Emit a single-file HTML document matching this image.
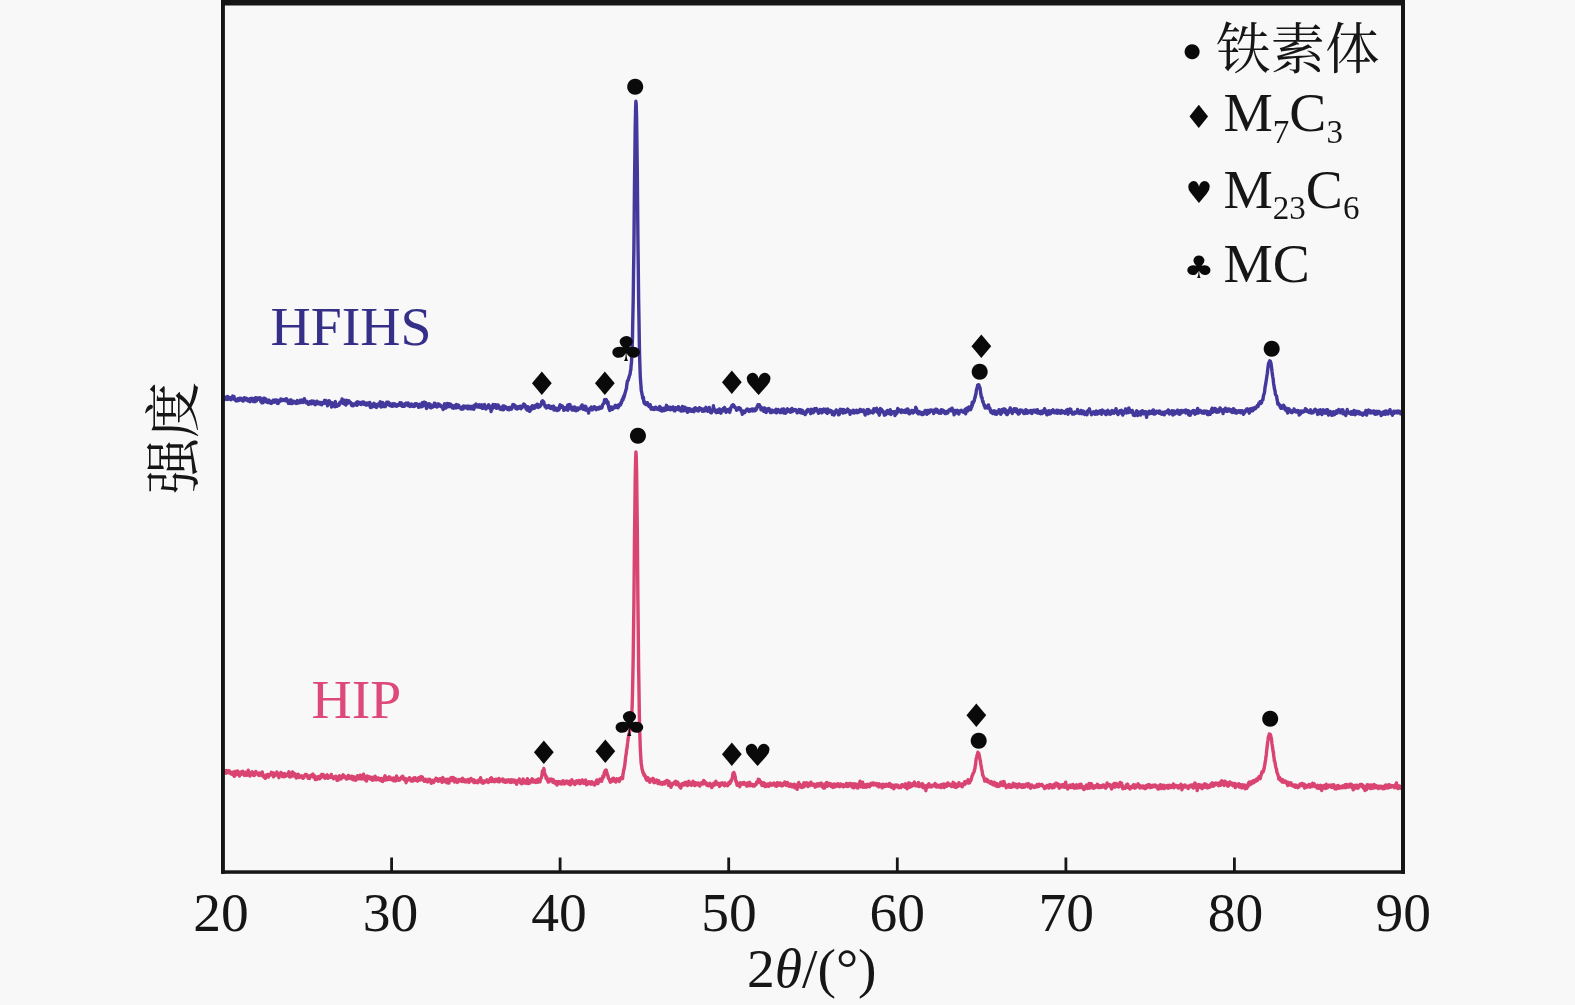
<!DOCTYPE html>
<html lang="zh">
<head>
<meta charset="utf-8">
<title>XRD</title>
<style>
html,body{margin:0;padding:0;background:#f8f8f8;}
body{width:1575px;height:1005px;overflow:hidden;}
svg{display:block;filter:blur(0.55px);}
.lat{font-family:"Liberation Serif","Noto Serif CJK SC",serif;}
.cjk{font-family:"Liberation Serif","Noto Serif CJK SC",serif;}
.sym{font-family:"DejaVu Sans",sans-serif;}
</style>
</head>
<body>
<svg width="1575" height="1005" viewBox="0 0 1575 1005">
<rect x="0" y="0" width="1575" height="1005" fill="#f8f8f8"/>
<!-- curves -->
<polyline points="224.5,398.5 224.8,399.5 225.2,399.0 225.5,397.1 225.9,397.3 226.2,397.4 226.5,399.0 226.9,398.6 227.2,399.4 227.6,396.4 227.9,399.4 228.2,397.5 228.6,398.2 228.9,397.5 229.3,397.4 229.6,398.5 229.9,399.2 230.3,398.5 230.6,398.7 231,399.7 231.3,398.2 231.6,397.5 232,399.2 232.3,397.8 232.7,396.1 233,396.8 233.3,397.1 233.7,396.5 234,396.5 234.4,398.4 234.7,399.7 235,399.1 235.4,399.1 235.7,400.6 236.1,400.9 236.4,399.7 236.7,400.3 237.1,400.7 237.4,399.4 237.8,398.8 238.1,399.8 238.4,399.6 238.8,400.5 239.1,398.4 239.5,399.3 239.8,399.3 240.1,398.3 240.5,399.9 240.8,399.9 241.2,398.3 241.5,400.2 241.8,399.8 242.2,400.0 242.5,400.2 242.9,401.1 243.2,398.9 243.5,400.8 243.9,400.5 244.2,397.7 244.6,399.4 244.9,398.6 245.2,399.5 245.6,398.3 245.9,398.9 246.3,399.4 246.6,398.3 246.9,400.1 247.3,399.7 247.6,400.6 248,399.6 248.3,401.0 248.6,400.3 249,399.3 249.3,400.2 249.7,401.0 250,401.7 250.3,398.4 250.7,400.8 251,400.2 251.4,399.5 251.7,398.5 252,400.8 252.4,398.5 252.7,400.5 253.1,401.4 253.4,398.6 253.7,399.8 254.1,398.7 254.4,400.0 254.8,401.1 255.1,401.6 255.4,397.8 255.8,399.1 256.1,400.3 256.5,400.9 256.8,399.4 257.1,398.0 257.5,399.0 257.8,398.7 258.2,398.6 258.5,398.1 258.8,399.2 259.2,399.0 259.5,398.5 259.9,398.4 260.2,397.7 260.5,399.3 260.9,401.8 261.2,401.1 261.6,400.1 261.9,402.7 262.2,401.6 262.6,402.8 262.9,400.4 263.3,399.6 263.6,398.3 263.9,400.8 264.3,401.8 264.6,398.3 265,398.5 265.3,399.9 265.6,398.8 266,399.7 266.3,400.1 266.7,401.0 267,402.2 267.3,401.4 267.7,402.5 268,401.4 268.4,402.4 268.7,400.0 269,400.4 269.4,402.4 269.7,400.8 270.1,401.9 270.4,402.1 270.7,403.2 271.1,403.0 271.4,403.4 271.8,402.2 272.1,401.4 272.4,401.0 272.8,401.0 273.1,400.3 273.5,401.0 273.8,401.7 274.1,402.3 274.5,401.7 274.8,399.9 275.2,401.3 275.5,401.1 275.8,401.7 276.2,401.1 276.5,400.0 276.9,400.2 277.2,403.2 277.5,402.1 277.9,403.2 278.2,403.4 278.6,400.4 278.9,401.5 279.2,401.5 279.6,401.5 279.9,401.3 280.3,400.8 280.6,400.7 280.9,398.9 281.3,400.2 281.6,399.7 282,400.5 282.3,399.7 282.6,400.4 283,400.2 283.3,399.5 283.7,399.7 284,399.8 284.3,399.6 284.7,400.2 285,399.9 285.4,400.7 285.7,400.2 286,400.7 286.4,398.7 286.7,400.9 287.1,399.5 287.4,400.0 287.7,401.4 288.1,401.9 288.4,403.4 288.8,402.8 289.1,402.1 289.4,401.8 289.8,403.4 290.1,401.6 290.5,400.1 290.8,401.2 291.1,399.9 291.5,403.6 291.8,400.7 292.2,403.1 292.5,403.4 292.8,401.3 293.2,402.6 293.5,402.8 293.9,401.8 294.2,401.4 294.5,402.2 294.9,401.7 295.2,402.2 295.6,402.2 295.9,403.3 296.2,401.8 296.6,403.4 296.9,401.6 297.3,400.6 297.6,401.7 297.9,403.1 298.3,402.5 298.6,401.4 299,402.8 299.3,401.8 299.6,402.1 300,402.4 300.3,400.1 300.7,402.6 301,401.4 301.3,401.5 301.7,400.4 302,400.0 302.4,400.2 302.7,401.7 303,402.4 303.4,400.6 303.7,401.7 304.1,400.3 304.4,398.7 304.7,401.0 305.1,401.6 305.4,401.1 305.8,402.2 306.1,402.8 306.4,401.6 306.8,401.2 307.1,402.7 307.5,402.9 307.8,402.8 308.1,404.0 308.5,404.5 308.8,402.1 309.2,403.0 309.5,403.1 309.8,402.8 310.2,403.0 310.5,401.5 310.9,402.6 311.2,403.8 311.5,402.5 311.9,401.0 312.2,402.3 312.6,403.1 312.9,402.4 313.2,401.5 313.6,403.7 313.9,401.2 314.3,403.4 314.6,403.2 314.9,402.3 315.3,404.7 315.6,403.7 316,402.1 316.3,403.8 316.6,402.7 317,401.2 317.3,402.3 317.7,403.3 318,403.6 318.3,403.0 318.7,402.7 319,403.0 319.4,402.4 319.7,404.0 320,403.3 320.4,403.7 320.7,404.0 321.1,402.4 321.4,402.7 321.7,404.9 322.1,403.7 322.4,403.0 322.8,403.5 323.1,402.6 323.4,403.2 323.8,402.1 324.1,402.7 324.5,400.5 324.8,403.2 325.1,401.3 325.5,400.4 325.8,401.9 326.2,401.9 326.5,402.4 326.8,401.1 327.2,402.6 327.5,405.9 327.9,401.2 328.2,403.0 328.5,402.4 328.9,402.9 329.2,400.7 329.6,401.2 329.9,402.7 330.2,402.3 330.6,404.3 330.9,402.5 331.3,404.0 331.6,407.0 331.9,403.3 332.3,402.9 332.6,403.6 333,403.5 333.3,404.5 333.6,403.9 334,403.2 334.3,404.3 334.7,406.8 335,405.5 335.3,401.4 335.7,404.1 336,403.5 336.4,405.1 336.7,404.4 337,406.4 337.4,405.3 337.7,405.2 338.1,404.6 338.4,404.5 338.7,404.7 339.1,405.3 339.4,404.0 339.8,402.5 340.1,403.6 340.4,402.3 340.8,402.0 341.1,401.2 341.5,401.4 341.8,401.2 342.1,399.0 342.5,402.9 342.8,402.7 343.2,402.2 343.5,403.7 343.8,403.3 344.2,403.2 344.5,400.3 344.9,402.5 345.2,403.3 345.5,404.6 345.9,405.0 346.2,404.5 346.6,401.7 346.9,400.3 347.2,402.7 347.6,402.1 347.9,403.2 348.3,402.2 348.6,402.6 348.9,400.8 349.3,402.7 349.6,401.7 350,402.4 350.3,402.7 350.6,402.6 351,403.8 351.3,404.2 351.7,405.6 352,405.5 352.3,404.2 352.7,403.8 353,405.9 353.4,404.0 353.7,405.3 354,404.9 354.4,404.1 354.7,404.0 355.1,404.8 355.4,404.7 355.7,404.9 356.1,402.7 356.4,403.2 356.8,403.6 357.1,405.4 357.4,401.7 357.8,404.5 358.1,403.4 358.5,403.9 358.8,402.4 359.1,402.7 359.5,403.6 359.8,402.5 360.2,403.1 360.5,403.7 360.8,403.1 361.2,404.6 361.5,403.6 361.9,402.4 362.2,402.5 362.5,401.9 362.9,402.8 363.2,402.2 363.6,402.0 363.9,404.2 364.2,403.9 364.6,404.4 364.9,403.8 365.3,403.2 365.6,403.1 365.9,403.6 366.3,405.2 366.6,404.6 367,403.2 367.3,404.7 367.6,403.3 368,404.7 368.3,403.2 368.7,402.8 369,404.0 369.3,403.7 369.7,402.4 370,405.3 370.4,407.3 370.7,404.1 371,407.6 371.4,405.1 371.7,405.3 372.1,405.6 372.4,404.3 372.7,406.8 373.1,405.6 373.4,404.1 373.8,404.5 374.1,403.3 374.4,404.7 374.8,406.4 375.1,404.1 375.5,405.7 375.8,406.4 376.1,407.3 376.5,407.4 376.8,405.3 377.2,404.6 377.5,405.3 377.8,404.1 378.2,404.0 378.5,405.3 378.9,405.8 379.2,404.2 379.5,403.6 379.9,404.2 380.2,401.7 380.6,403.8 380.9,403.1 381.2,407.0 381.6,405.7 381.9,405.3 382.3,404.9 382.6,402.4 382.9,405.6 383.3,406.6 383.6,404.5 384,406.2 384.3,406.4 384.6,404.0 385,406.3 385.3,406.5 385.7,405.0 386,404.4 386.3,404.9 386.7,402.3 387,403.7 387.4,404.6 387.7,402.2 388,404.6 388.4,403.5 388.7,402.5 389.1,405.0 389.4,404.4 389.7,405.5 390.1,403.7 390.4,405.7 390.8,403.9 391.1,405.2 391.4,404.4 391.8,404.8 392.1,406.4 392.5,405.4 392.8,404.8 393.1,403.8 393.5,406.1 393.8,405.5 394.2,404.4 394.5,405.0 394.8,403.8 395.2,404.1 395.5,404.6 395.9,406.1 396.2,406.2 396.5,405.0 396.9,406.1 397.2,405.8 397.6,404.9 397.9,405.7 398.2,404.4 398.6,404.6 398.9,405.1 399.3,404.4 399.6,405.0 399.9,402.7 400.3,405.2 400.6,403.0 401,403.7 401.3,402.8 401.6,405.1 402,406.1 402.3,406.3 402.7,406.3 403,404.1 403.3,404.9 403.7,405.1 404,404.5 404.4,406.4 404.7,405.3 405,404.8 405.4,405.0 405.7,403.3 406.1,403.1 406.4,403.2 406.7,404.8 407.1,404.8 407.4,405.1 407.8,405.5 408.1,403.0 408.4,403.9 408.8,404.9 409.1,403.8 409.5,404.9 409.8,406.5 410.1,406.4 410.5,406.1 410.8,404.9 411.2,404.4 411.5,405.5 411.8,404.1 412.2,404.9 412.5,406.2 412.9,404.9 413.2,404.9 413.5,405.7 413.9,406.4 414.2,406.2 414.6,405.8 414.9,406.0 415.2,403.7 415.6,404.3 415.9,405.3 416.3,404.2 416.6,403.8 416.9,403.9 417.3,404.3 417.6,405.2 418,404.5 418.3,405.9 418.6,407.3 419,405.3 419.3,406.5 419.7,405.5 420,404.2 420.3,405.3 420.7,404.8 421,406.7 421.4,404.7 421.7,406.8 422,405.7 422.4,402.7 422.7,405.2 423.1,405.9 423.4,403.5 423.7,405.1 424.1,402.1 424.4,404.1 424.8,402.3 425.1,404.8 425.4,403.0 425.8,402.7 426.1,406.2 426.5,408.5 426.8,405.8 427.1,407.2 427.5,406.1 427.8,405.3 428.2,405.8 428.5,406.7 428.8,403.8 429.2,405.8 429.5,405.7 429.9,404.1 430.2,407.2 430.5,407.7 430.9,404.9 431.2,407.7 431.6,406.1 431.9,405.7 432.2,407.3 432.6,405.9 432.9,405.8 433.3,406.8 433.6,406.4 433.9,405.7 434.3,403.3 434.6,403.3 435,406.3 435.3,404.7 435.6,406.1 436,405.0 436.3,405.9 436.7,404.6 437,407.1 437.3,403.9 437.7,404.5 438,404.5 438.4,406.2 438.7,403.9 439,405.4 439.4,405.2 439.7,405.9 440.1,405.9 440.4,405.1 440.7,406.0 441.1,405.7 441.4,406.8 441.8,406.6 442.1,406.3 442.4,407.2 442.8,407.7 443.1,409.5 443.5,406.5 443.8,406.9 444.1,407.6 444.5,403.7 444.8,403.7 445.2,404.1 445.5,405.3 445.8,408.1 446.2,406.3 446.5,407.3 446.9,405.8 447.2,403.4 447.5,403.5 447.9,406.8 448.2,405.9 448.6,404.3 448.9,406.6 449.2,403.7 449.6,406.2 449.9,406.5 450.3,404.4 450.6,404.3 450.9,406.5 451.3,404.8 451.6,407.0 452,405.3 452.3,407.7 452.6,407.4 453,407.2 453.3,406.9 453.7,408.2 454,406.0 454.3,407.5 454.7,407.0 455,407.6 455.4,405.2 455.7,407.7 456,405.5 456.4,404.6 456.7,407.2 457.1,407.7 457.4,406.0 457.7,405.2 458.1,406.0 458.4,405.1 458.8,405.5 459.1,407.5 459.4,406.8 459.8,407.1 460.1,407.8 460.5,407.8 460.8,408.9 461.1,408.8 461.5,407.3 461.8,407.3 462.2,409.2 462.5,407.0 462.8,406.4 463.2,408.9 463.5,407.1 463.9,406.1 464.2,407.8 464.5,406.2 464.9,406.6 465.2,407.4 465.6,407.0 465.9,406.3 466.2,406.6 466.6,406.5 466.9,408.2 467.3,406.2 467.6,406.2 467.9,408.8 468.3,406.3 468.6,408.5 469,408.5 469.3,407.3 469.6,406.3 470,408.4 470.3,408.6 470.7,408.8 471,407.8 471.3,408.7 471.7,408.7 472,406.2 472.4,408.7 472.7,407.6 473,406.9 473.4,407.1 473.7,409.3 474.1,408.3 474.4,405.3 474.7,406.9 475.1,406.1 475.4,405.6 475.8,404.9 476.1,404.0 476.4,406.8 476.8,405.5 477.1,406.5 477.5,406.4 477.8,406.0 478.1,407.0 478.5,406.2 478.8,404.9 479.2,404.7 479.5,405.4 479.8,407.3 480.2,406.9 480.5,407.2 480.9,406.6 481.2,406.6 481.5,406.9 481.9,404.8 482.2,408.3 482.6,406.0 482.9,406.3 483.2,408.3 483.6,407.1 483.9,406.7 484.3,405.7 484.6,404.6 484.9,406.5 485.3,408.0 485.6,406.4 486,409.0 486.3,406.7 486.6,407.0 487,408.0 487.3,407.2 487.7,407.7 488,406.1 488.3,405.6 488.7,404.7 489,405.5 489.4,406.0 489.7,406.2 490,408.5 490.4,408.0 490.7,407.0 491.1,411.5 491.4,408.0 491.7,407.2 492.1,409.2 492.4,408.4 492.8,405.4 493.1,404.5 493.4,404.7 493.8,406.9 494.1,405.7 494.5,405.3 494.8,406.1 495.1,407.3 495.5,404.7 495.8,405.8 496.2,404.9 496.5,408.4 496.8,408.0 497.2,407.1 497.5,406.2 497.9,407.3 498.2,405.0 498.5,407.7 498.9,406.4 499.2,406.6 499.6,407.5 499.9,408.2 500.2,409.3 500.6,409.4 500.9,408.8 501.3,407.4 501.6,408.8 501.9,408.1 502.3,409.7 502.6,407.8 503,406.0 503.3,407.8 503.6,409.7 504,407.3 504.3,406.1 504.7,407.1 505,407.0 505.3,407.4 505.7,406.8 506,407.8 506.4,408.4 506.7,407.9 507,407.6 507.4,408.8 507.7,409.4 508.1,408.7 508.4,408.2 508.7,407.9 509.1,409.8 509.4,407.4 509.8,408.2 510.1,409.2 510.4,407.5 510.8,407.9 511.1,408.7 511.5,409.1 511.8,407.4 512.1,407.0 512.5,406.3 512.8,404.7 513.2,407.0 513.5,405.8 513.8,404.6 514.2,406.4 514.5,405.1 514.9,406.0 515.2,407.2 515.5,406.5 515.9,408.6 516.2,406.3 516.6,408.1 516.9,408.3 517.2,409.0 517.6,408.2 517.9,407.3 518.3,407.0 518.6,406.9 518.9,408.2 519.3,406.5 519.6,407.7 520,406.9 520.3,407.0 520.6,406.3 521,408.7 521.3,406.1 521.7,407.1 522,407.1 522.3,407.4 522.7,406.9 523,406.6 523.4,406.7 523.7,403.9 524,405.3 524.4,404.3 524.7,406.1 525.1,405.2 525.4,405.8 525.7,407.1 526.1,409.0 526.4,408.6 526.8,408.8 527.1,410.1 527.4,407.9 527.8,406.7 528.1,408.2 528.5,408.3 528.8,409.9 529.1,410.9 529.5,407.6 529.8,411.3 530.2,410.2 530.5,409.0 530.8,408.0 531.2,409.5 531.5,406.9 531.9,406.2 532.2,406.9 532.5,405.7 532.9,408.1 533.2,407.9 533.6,408.4 533.9,408.2 534.2,406.3 534.6,408.2 534.9,405.6 535.3,407.6 535.6,405.2 535.9,407.1 536.3,405.7 536.6,406.4 537,405.7 537.3,404.1 537.6,405.3 538,406.7 538.3,407.4 538.7,405.6 539,405.0 539.3,406.2 539.7,406.7 540,405.8 540.4,404.9 540.7,405.6 541,404.8 541.4,403.9 541.7,401.8 542.1,402.4 542.4,402.0 542.7,400.8 543.1,402.9 543.4,402.2 543.8,401.9 544.1,404.1 544.4,404.3 544.8,405.3 545.1,406.7 545.5,407.1 545.8,405.8 546.1,406.8 546.5,408.0 546.8,406.0 547.2,406.5 547.5,406.6 547.8,407.5 548.2,407.3 548.5,406.8 548.9,405.6 549.2,406.6 549.5,406.5 549.9,406.3 550.2,408.3 550.6,407.8 550.9,406.6 551.2,408.5 551.6,407.0 551.9,408.1 552.3,406.4 552.6,408.3 552.9,407.6 553.3,407.5 553.6,406.2 554,410.1 554.3,407.8 554.6,408.5 555,409.7 555.3,408.9 555.7,409.8 556,408.1 556.3,409.8 556.7,409.3 557,410.5 557.4,410.3 557.7,408.8 558,408.2 558.4,408.7 558.7,410.1 559.1,409.3 559.4,408.7 559.7,405.9 560.1,404.8 560.4,406.5 560.8,406.5 561.1,406.2 561.4,407.2 561.8,406.7 562.1,405.8 562.5,406.1 562.8,407.3 563.1,407.5 563.5,407.7 563.8,410.4 564.2,408.1 564.5,408.7 564.8,407.7 565.2,408.5 565.5,409.4 565.9,409.5 566.2,408.9 566.5,409.5 566.9,409.2 567.2,407.1 567.6,405.3 567.9,410.2 568.2,408.1 568.6,406.6 568.9,404.7 569.3,405.3 569.6,408.3 569.9,404.4 570.3,406.9 570.6,408.0 571,407.1 571.3,407.6 571.6,407.0 572,410.0 572.3,407.1 572.7,407.1 573,409.0 573.3,410.1 573.7,408.5 574,409.3 574.4,407.5 574.7,406.9 575,409.8 575.4,410.5 575.7,410.7 576.1,408.9 576.4,408.2 576.7,408.2 577.1,409.3 577.4,410.2 577.8,410.1 578.1,407.9 578.4,409.4 578.8,409.0 579.1,408.9 579.5,408.6 579.8,408.2 580.1,408.6 580.5,407.7 580.8,407.4 581.2,406.1 581.5,407.1 581.8,406.7 582.2,405.0 582.5,408.1 582.9,407.8 583.2,409.3 583.5,408.4 583.9,408.3 584.2,408.4 584.6,407.9 584.9,407.4 585.2,406.2 585.6,410.0 585.9,406.8 586.3,408.2 586.6,409.4 586.9,409.4 587.3,409.9 587.6,410.4 588,411.2 588.3,410.4 588.6,413.0 589,408.9 589.3,409.9 589.7,409.0 590,408.5 590.3,409.0 590.7,409.7 591,407.2 591.4,407.0 591.7,408.4 592,408.2 592.4,409.8 592.7,409.1 593.1,408.6 593.4,408.2 593.7,408.6 594.1,408.0 594.4,406.7 594.8,408.1 595.1,408.0 595.4,407.9 595.8,407.7 596.1,409.7 596.5,408.7 596.8,409.1 597.1,407.8 597.5,407.7 597.8,408.6 598.2,409.0 598.5,408.2 598.8,408.0 599.2,408.8 599.5,408.1 599.9,406.9 600.2,407.6 600.5,407.5 600.9,408.3 601.2,406.8 601.6,407.4 601.9,407.9 602.2,406.6 602.6,405.0 602.9,404.3 603.3,404.1 603.6,403.5 603.9,403.1 604.3,401.4 604.6,399.6 605,401.2 605.3,399.8 605.6,399.9 606,400.1 606.3,399.6 606.7,400.9 607,402.2 607.3,403.7 607.7,403.8 608,401.9 608.4,405.7 608.7,407.2 609,408.8 609.4,408.7 609.7,410.5 610.1,409.4 610.4,409.2 610.7,408.9 611.1,407.0 611.4,409.6 611.8,409.6 612.1,408.5 612.4,409.3 612.8,408.6 613.1,407.2 613.5,407.3 613.8,407.1 614.1,407.5 614.5,406.8 614.8,407.8 615.2,405.4 615.5,407.0 615.8,405.5 616.2,406.5 616.5,407.3 616.9,406.6 617.2,406.3 617.5,406.4 617.9,407.8 618.2,405.1 618.6,407.0 618.9,404.7 619.2,405.4 619.6,405.6 619.9,404.2 620.3,404.7 620.6,404.8 620.9,402.6 621.3,403.2 621.6,402.2 622,400.0 622.3,400.7 622.6,399.1 623,399.8 623.3,396.9 623.7,398.1 624,395.4 624.3,396.5 624.7,394.4 625,393.1 625.4,392.1 625.7,390.8 626,389.8 626.4,388.6 626.7,385.6 627.1,383.4 627.4,380.9 627.7,381.0 628.1,380.5 628.4,379.2 628.8,378.1 629.1,377.0 629.4,375.8 629.8,374.9 630.1,373.9 630.5,370.8 630.8,370.1 631.1,365.8 631.5,362.3 631.8,355.9 632.2,347.4 632.5,335.4 632.8,319.8 633.2,300.4 633.5,275.8 633.9,248.5 634.2,216.5 634.5,184.2 634.9,153.6 635.2,127.6 635.6,109.1 635.9,101.3 636.2,104.4 636.6,118.2 636.9,141.7 637.3,171.1 637.6,204.3 637.9,237.8 638.3,269.5 638.6,297.7 639,321.2 639.3,341.5 639.6,356.2 640,368.3 640.3,377.0 640.7,382.4 641,386.1 641.3,390.8 641.7,392.0 642,394.2 642.4,395.5 642.7,398.2 643,398.3 643.4,397.4 643.7,401.0 644.1,403.0 644.4,403.5 644.7,401.9 645.1,402.9 645.4,403.7 645.8,404.5 646.1,404.0 646.4,403.1 646.8,404.7 647.1,404.5 647.5,402.7 647.8,403.8 648.1,404.9 648.5,405.2 648.8,406.1 649.2,406.6 649.5,406.4 649.8,405.7 650.2,404.7 650.5,407.0 650.9,408.2 651.2,409.1 651.5,407.3 651.9,407.4 652.2,408.9 652.6,409.2 652.9,408.6 653.2,409.3 653.6,408.1 653.9,409.5 654.3,408.1 654.6,408.8 654.9,408.9 655.3,408.7 655.6,407.1 656,408.2 656.3,409.1 656.6,408.4 657,408.0 657.3,408.8 657.7,409.2 658,409.5 658.3,407.9 658.7,408.5 659,407.9 659.4,407.1 659.7,406.5 660,408.0 660.4,407.4 660.7,410.5 661.1,408.5 661.4,408.6 661.7,408.7 662.1,411.1 662.4,408.5 662.8,409.3 663.1,408.7 663.4,409.3 663.8,409.3 664.1,410.5 664.5,407.9 664.8,409.0 665.1,410.3 665.5,407.8 665.8,407.9 666.2,407.0 666.5,405.3 666.8,408.0 667.2,409.6 667.5,408.2 667.9,406.9 668.2,408.9 668.5,408.4 668.9,409.2 669.2,409.2 669.6,408.3 669.9,409.3 670.2,407.2 670.6,409.9 670.9,408.8 671.3,409.5 671.6,409.4 671.9,408.1 672.3,408.4 672.6,407.9 673,406.9 673.3,409.1 673.6,409.7 674,408.8 674.3,410.9 674.7,410.4 675,410.7 675.3,409.1 675.7,407.7 676,409.8 676.4,409.4 676.7,408.5 677,408.2 677.4,408.3 677.7,408.4 678.1,408.0 678.4,406.7 678.7,409.7 679.1,407.8 679.4,409.3 679.8,409.5 680.1,410.1 680.4,408.2 680.8,411.0 681.1,410.5 681.5,410.6 681.8,411.0 682.1,408.8 682.5,406.4 682.8,409.8 683.2,410.8 683.5,410.6 683.8,408.8 684.2,409.1 684.5,409.3 684.9,407.1 685.2,408.1 685.5,408.2 685.9,410.6 686.2,408.7 686.6,411.2 686.9,410.0 687.2,408.5 687.6,412.4 687.9,409.0 688.3,410.3 688.6,411.2 688.9,408.9 689.3,408.5 689.6,411.1 690,410.3 690.3,409.1 690.6,409.3 691,410.0 691.3,411.3 691.7,409.8 692,410.5 692.3,411.3 692.7,411.0 693,411.3 693.4,411.4 693.7,408.8 694,411.7 694.4,410.5 694.7,409.7 695.1,408.4 695.4,407.7 695.7,408.2 696.1,409.4 696.4,408.4 696.8,408.8 697.1,409.2 697.4,410.7 697.8,409.8 698.1,409.8 698.5,410.9 698.8,408.8 699.1,409.5 699.5,407.7 699.8,409.0 700.2,408.9 700.5,409.1 700.8,408.8 701.2,408.7 701.5,409.7 701.9,409.7 702.2,411.2 702.5,411.1 702.9,409.1 703.2,411.1 703.6,410.2 703.9,411.2 704.2,410.1 704.6,408.7 704.9,410.7 705.3,409.9 705.6,408.0 705.9,407.3 706.3,408.8 706.6,408.5 707,409.5 707.3,410.6 707.6,411.2 708,409.1 708.3,410.5 708.7,410.1 709,408.5 709.3,407.4 709.7,410.2 710,410.2 710.4,412.4 710.7,411.9 711,411.7 711.4,412.8 711.7,410.0 712.1,410.9 712.4,409.8 712.7,411.1 713.1,409.5 713.4,405.7 713.8,410.3 714.1,408.5 714.4,410.8 714.8,410.1 715.1,411.3 715.5,411.9 715.8,411.6 716.1,410.4 716.5,412.7 716.8,411.5 717.2,410.9 717.5,411.5 717.8,410.1 718.2,412.4 718.5,410.4 718.9,410.3 719.2,410.1 719.5,409.0 719.9,409.2 720.2,411.2 720.6,411.9 720.9,413.2 721.2,412.1 721.6,410.1 721.9,411.2 722.3,411.2 722.6,411.2 722.9,410.4 723.3,408.6 723.6,410.6 724,408.4 724.3,409.6 724.6,407.5 725,410.1 725.3,408.9 725.7,411.1 726,412.3 726.3,412.2 726.7,410.2 727,410.3 727.4,409.9 727.7,410.7 728,409.8 728.4,409.4 728.7,409.7 729.1,410.5 729.4,411.0 729.7,412.4 730.1,410.5 730.4,410.3 730.8,407.6 731.1,407.3 731.4,407.1 731.8,405.8 732.1,406.5 732.5,406.6 732.8,404.8 733.1,404.7 733.5,404.9 733.8,406.0 734.2,405.9 734.5,407.1 734.8,407.3 735.2,407.5 735.5,408.2 735.9,407.8 736.2,408.3 736.5,410.3 736.9,408.8 737.2,409.8 737.6,409.1 737.9,408.4 738.2,408.2 738.6,407.7 738.9,408.4 739.3,407.7 739.6,407.8 739.9,409.4 740.3,408.4 740.6,410.2 741,410.1 741.3,411.4 741.6,410.5 742,411.6 742.3,414.2 742.7,412.5 743,412.8 743.3,412.2 743.7,412.9 744,410.9 744.4,411.1 744.7,412.1 745,412.3 745.4,410.9 745.7,411.0 746.1,410.6 746.4,410.6 746.7,409.4 747.1,409.0 747.4,410.6 747.8,409.2 748.1,410.3 748.4,410.7 748.8,410.2 749.1,411.4 749.5,410.6 749.8,410.9 750.1,409.8 750.5,409.9 750.8,410.9 751.2,410.4 751.5,409.2 751.8,409.7 752.2,409.3 752.5,409.2 752.9,410.9 753.2,409.2 753.5,410.3 753.9,410.4 754.2,409.8 754.6,408.9 754.9,410.9 755.2,410.6 755.6,410.3 755.9,409.9 756.3,409.4 756.6,408.0 756.9,408.6 757.3,406.0 757.6,406.9 758,404.8 758.3,405.2 758.6,405.8 759,404.8 759.3,404.8 759.7,406.1 760,406.0 760.3,406.6 760.7,407.4 761,409.9 761.4,409.6 761.7,409.7 762,408.1 762.4,409.9 762.7,408.0 763.1,409.7 763.4,408.2 763.7,411.4 764.1,407.9 764.4,410.9 764.8,410.6 765.1,408.2 765.4,410.1 765.8,412.4 766.1,412.5 766.5,409.8 766.8,410.7 767.1,409.5 767.5,409.0 767.8,408.8 768.2,410.9 768.5,409.0 768.8,408.6 769.2,408.8 769.5,410.2 769.9,410.8 770.2,409.8 770.5,412.6 770.9,410.2 771.2,410.9 771.6,411.4 771.9,412.4 772.2,410.1 772.6,410.6 772.9,411.7 773.3,411.2 773.6,411.8 773.9,411.8 774.3,411.1 774.6,411.4 775,411.7 775.3,410.8 775.6,412.5 776,409.2 776.3,410.5 776.7,412.9 777,411.7 777.3,410.3 777.7,410.9 778,411.4 778.4,409.6 778.7,411.1 779,410.4 779.4,410.7 779.7,411.1 780.1,412.6 780.4,410.6 780.7,411.5 781.1,412.4 781.4,410.2 781.8,409.3 782.1,411.1 782.4,410.2 782.8,409.8 783.1,409.9 783.5,408.9 783.8,413.0 784.1,409.5 784.5,410.5 784.8,409.9 785.2,411.2 785.5,413.3 785.8,411.7 786.2,411.9 786.5,410.2 786.9,412.1 787.2,410.2 787.5,408.8 787.9,411.1 788.2,410.1 788.6,411.3 788.9,411.0 789.2,411.1 789.6,411.0 789.9,410.0 790.3,409.6 790.6,412.3 790.9,411.3 791.3,411.5 791.6,410.4 792,408.4 792.3,408.8 792.6,411.5 793,409.6 793.3,410.4 793.7,409.6 794,410.4 794.3,410.2 794.7,410.0 795,410.0 795.4,409.5 795.7,409.8 796,410.6 796.4,411.2 796.7,410.9 797.1,412.8 797.4,411.3 797.7,411.3 798.1,410.5 798.4,412.2 798.8,410.1 799.1,409.5 799.4,410.1 799.8,411.8 800.1,410.2 800.5,412.7 800.8,411.4 801.1,409.8 801.5,411.0 801.8,413.1 802.2,410.7 802.5,410.5 802.8,412.5 803.2,413.4 803.5,413.3 803.9,412.0 804.2,412.6 804.5,412.8 804.9,413.6 805.2,414.6 805.6,412.2 805.9,413.4 806.2,411.5 806.6,412.1 806.9,410.3 807.3,410.1 807.6,411.0 807.9,409.5 808.3,411.2 808.6,409.9 809,410.6 809.3,410.7 809.6,410.6 810,411.0 810.3,411.9 810.7,413.7 811,409.3 811.3,410.7 811.7,410.4 812,409.8 812.4,411.3 812.7,410.4 813,411.4 813.4,412.7 813.7,409.3 814.1,411.0 814.4,410.6 814.7,408.7 815.1,409.9 815.4,409.7 815.8,409.2 816.1,410.9 816.4,408.5 816.8,410.8 817.1,410.3 817.5,410.1 817.8,411.6 818.1,411.9 818.5,413.3 818.8,410.8 819.2,411.6 819.5,410.7 819.8,412.2 820.2,409.5 820.5,412.0 820.9,409.7 821.2,412.3 821.5,412.2 821.9,412.8 822.2,411.6 822.6,409.8 822.9,409.5 823.2,411.8 823.6,410.3 823.9,409.1 824.3,410.9 824.6,409.5 824.9,409.8 825.3,409.4 825.6,411.7 826,412.3 826.3,409.4 826.6,410.9 827,412.0 827.3,413.4 827.7,409.0 828,411.6 828.3,412.1 828.7,410.0 829,412.0 829.4,411.7 829.7,412.0 830,410.5 830.4,411.4 830.7,410.5 831.1,412.0 831.4,412.0 831.7,411.9 832.1,411.2 832.4,414.5 832.8,414.1 833.1,414.0 833.4,412.6 833.8,413.0 834.1,415.0 834.5,413.8 834.8,411.7 835.1,412.0 835.5,411.5 835.8,410.8 836.2,409.9 836.5,412.2 836.8,411.9 837.2,411.7 837.5,411.1 837.9,412.8 838.2,413.8 838.5,414.8 838.9,413.4 839.2,414.5 839.6,413.0 839.9,411.6 840.2,409.2 840.6,410.7 840.9,410.3 841.3,411.4 841.6,411.5 841.9,412.2 842.3,410.6 842.6,409.4 843,413.1 843.3,411.4 843.6,411.0 844,411.0 844.3,409.8 844.7,411.7 845,411.4 845.3,412.5 845.7,411.9 846,411.6 846.4,411.9 846.7,410.2 847,410.0 847.4,410.3 847.7,409.1 848.1,410.3 848.4,410.4 848.7,411.8 849.1,411.6 849.4,410.3 849.8,412.7 850.1,414.4 850.4,411.3 850.8,412.4 851.1,413.2 851.5,411.8 851.8,412.4 852.1,412.5 852.5,410.7 852.8,411.9 853.2,411.9 853.5,410.2 853.8,411.7 854.2,413.1 854.5,412.0 854.9,412.5 855.2,412.3 855.5,411.0 855.9,411.9 856.2,411.3 856.6,410.3 856.9,412.2 857.2,412.7 857.6,412.5 857.9,410.8 858.3,411.6 858.6,412.3 858.9,410.9 859.3,411.5 859.6,411.2 860,409.6 860.3,410.3 860.6,409.6 861,411.4 861.3,410.7 861.7,410.5 862,411.2 862.3,411.1 862.7,411.6 863,411.6 863.4,410.0 863.7,410.7 864,412.0 864.4,412.6 864.7,412.5 865.1,415.1 865.4,413.3 865.7,411.6 866.1,412.0 866.4,412.5 866.8,411.6 867.1,409.7 867.4,411.8 867.8,411.8 868.1,413.7 868.5,409.4 868.8,412.5 869.1,410.6 869.5,411.8 869.8,410.8 870.2,411.6 870.5,412.7 870.8,411.5 871.2,412.3 871.5,411.3 871.9,411.3 872.2,411.9 872.5,411.8 872.9,411.9 873.2,412.9 873.6,409.8 873.9,408.7 874.2,410.0 874.6,411.4 874.9,410.7 875.3,410.9 875.6,411.0 875.9,409.4 876.3,410.7 876.6,408.3 877,410.7 877.3,412.1 877.6,410.2 878,409.9 878.3,411.0 878.7,412.9 879,414.0 879.3,415.2 879.7,413.5 880,410.0 880.4,408.6 880.7,410.8 881,411.7 881.4,409.2 881.7,410.3 882.1,410.4 882.4,410.9 882.7,410.8 883.1,411.8 883.4,412.8 883.8,412.3 884.1,413.5 884.4,415.2 884.8,412.4 885.1,412.4 885.5,413.8 885.8,414.7 886.1,412.6 886.5,413.0 886.8,411.2 887.2,412.1 887.5,410.5 887.8,412.1 888.2,412.2 888.5,412.6 888.9,413.6 889.2,413.1 889.5,411.1 889.9,412.3 890.2,409.7 890.6,412.6 890.9,414.6 891.2,412.6 891.6,412.7 891.9,412.2 892.3,412.9 892.6,411.7 892.9,413.1 893.3,412.4 893.6,412.5 894,413.3 894.3,413.3 894.6,411.7 895,415.5 895.3,413.4 895.7,411.5 896,414.2 896.3,412.9 896.7,412.8 897,413.0 897.4,411.0 897.7,408.5 898,410.8 898.4,410.6 898.7,411.2 899.1,409.6 899.4,410.5 899.7,411.6 900.1,411.1 900.4,411.2 900.8,411.6 901.1,410.1 901.4,412.5 901.8,410.0 902.1,411.0 902.5,410.9 902.8,410.6 903.1,411.7 903.5,411.9 903.8,412.1 904.2,411.2 904.5,410.5 904.8,412.2 905.2,410.3 905.5,412.0 905.9,412.4 906.2,412.2 906.5,410.1 906.9,409.2 907.2,412.0 907.6,409.8 907.9,409.1 908.2,410.1 908.6,412.0 908.9,413.6 909.3,412.7 909.6,413.8 909.9,412.7 910.3,412.6 910.6,412.8 911,411.1 911.3,411.4 911.6,410.5 912,410.4 912.3,412.3 912.7,411.5 913,413.0 913.3,412.2 913.7,412.5 914,411.2 914.4,411.9 914.7,410.3 915,410.0 915.4,411.6 915.7,407.3 916.1,409.5 916.4,408.3 916.7,411.5 917.1,412.4 917.4,412.9 917.8,412.5 918.1,411.2 918.4,413.7 918.8,412.4 919.1,412.1 919.5,411.7 919.8,413.7 920.1,413.1 920.5,413.2 920.8,413.7 921.2,413.6 921.5,412.4 921.8,414.6 922.2,412.7 922.5,412.9 922.9,414.5 923.2,414.4 923.5,414.2 923.9,413.4 924.2,413.4 924.6,412.4 924.9,410.8 925.2,412.7 925.6,410.5 925.9,410.9 926.3,411.8 926.6,411.3 926.9,414.3 927.3,410.4 927.6,411.1 928,411.8 928.3,413.1 928.6,411.5 929,410.4 929.3,412.7 929.7,410.3 930,410.7 930.3,411.6 930.7,410.0 931,410.2 931.4,411.1 931.7,410.5 932,411.1 932.4,410.2 932.7,411.4 933.1,410.7 933.4,410.4 933.7,413.6 934.1,412.2 934.4,412.6 934.8,410.5 935.1,411.2 935.4,410.7 935.8,409.2 936.1,410.9 936.5,409.6 936.8,410.4 937.1,409.5 937.5,412.4 937.8,412.5 938.2,412.3 938.5,411.2 938.8,411.5 939.2,413.2 939.5,411.7 939.9,412.1 940.2,412.0 940.5,410.8 940.9,413.3 941.2,409.8 941.6,411.9 941.9,411.6 942.2,410.0 942.6,411.8 942.9,411.8 943.3,411.4 943.6,410.6 943.9,412.0 944.3,412.8 944.6,412.0 945,413.6 945.3,412.9 945.6,412.9 946,413.5 946.3,411.4 946.7,411.4 947,412.3 947.3,412.1 947.7,413.0 948,412.3 948.4,411.0 948.7,410.7 949,410.0 949.4,409.8 949.7,409.6 950.1,410.8 950.4,409.1 950.7,409.0 951.1,409.5 951.4,409.0 951.8,409.6 952.1,408.1 952.4,411.0 952.8,410.7 953.1,411.7 953.5,412.3 953.8,410.5 954.1,414.8 954.5,412.6 954.8,412.4 955.2,410.4 955.5,412.8 955.8,412.6 956.2,411.7 956.5,412.2 956.9,413.0 957.2,411.1 957.5,410.3 957.9,412.4 958.2,411.5 958.6,411.3 958.9,414.1 959.2,412.2 959.6,411.8 959.9,411.9 960.3,410.8 960.6,411.2 960.9,411.0 961.3,410.3 961.6,410.8 962,411.5 962.3,411.7 962.6,411.9 963,412.2 963.3,411.7 963.7,411.9 964,411.0 964.3,411.1 964.7,412.3 965,409.4 965.4,411.5 965.7,413.9 966,408.7 966.4,411.6 966.7,408.2 967.1,410.1 967.4,411.2 967.7,410.8 968.1,408.2 968.4,407.5 968.8,407.1 969.1,409.1 969.4,408.4 969.8,409.1 970.1,409.6 970.5,409.7 970.8,409.3 971.1,408.1 971.5,405.4 971.8,407.1 972.2,402.3 972.5,405.1 972.8,403.0 973.2,402.9 973.5,402.1 973.9,401.5 974.2,400.8 974.5,399.3 974.9,397.3 975.2,397.3 975.6,394.6 975.9,394.4 976.2,391.5 976.6,389.3 976.9,388.4 977.3,387.4 977.6,385.2 977.9,385.2 978.3,386.2 978.6,384.7 979,385.3 979.3,386.9 979.6,387.2 980,387.8 980.3,390.1 980.7,393.4 981,395.2 981.3,396.6 981.7,397.7 982,397.5 982.4,400.1 982.7,401.6 983,401.1 983.4,403.6 983.7,403.6 984.1,405.2 984.4,406.2 984.7,405.1 985.1,408.1 985.4,406.0 985.8,406.7 986.1,406.4 986.4,407.3 986.8,407.2 987.1,406.8 987.5,408.1 987.8,407.2 988.1,406.8 988.5,404.9 988.8,407.7 989.2,408.0 989.5,407.7 989.8,408.1 990.2,409.9 990.5,410.9 990.9,412.2 991.2,411.9 991.5,410.6 991.9,412.1 992.2,411.1 992.6,413.5 992.9,413.2 993.2,411.9 993.6,412.0 993.9,411.4 994.3,410.7 994.6,412.4 994.9,414.0 995.3,411.8 995.6,412.3 996,411.7 996.3,411.5 996.6,414.3 997,411.9 997.3,412.6 997.7,412.0 998,412.3 998.3,411.3 998.7,411.6 999,409.8 999.4,411.3 999.7,413.2 1000,411.4 1000.4,412.1 1000.7,414.3 1001.1,413.2 1001.4,413.4 1001.7,409.6 1002.1,411.4 1002.4,409.7 1002.8,409.3 1003.1,410.9 1003.4,411.7 1003.8,409.0 1004.1,409.5 1004.5,410.1 1004.8,410.5 1005.1,409.2 1005.5,412.8 1005.8,411.3 1006.2,410.8 1006.5,411.2 1006.8,414.5 1007.2,414.6 1007.5,411.9 1007.9,412.5 1008.2,413.2 1008.5,410.5 1008.9,410.6 1009.2,412.0 1009.6,409.3 1009.9,409.1 1010.2,407.9 1010.6,408.6 1010.9,410.5 1011.3,409.6 1011.6,409.8 1011.9,410.9 1012.3,413.5 1012.6,411.8 1013,410.8 1013.3,411.2 1013.6,411.3 1014,410.8 1014.3,408.8 1014.7,410.8 1015,410.3 1015.3,411.2 1015.7,408.9 1016,411.3 1016.4,409.9 1016.7,409.0 1017,412.5 1017.4,411.2 1017.7,412.7 1018.1,412.6 1018.4,414.1 1018.7,414.0 1019.1,413.8 1019.4,413.2 1019.8,410.5 1020.1,410.1 1020.4,411.6 1020.8,410.3 1021.1,411.7 1021.5,411.6 1021.8,410.2 1022.1,410.9 1022.5,411.0 1022.8,411.4 1023.2,412.0 1023.5,412.9 1023.8,413.4 1024.2,411.0 1024.5,411.3 1024.9,413.5 1025.2,412.9 1025.5,412.4 1025.9,409.7 1026.2,410.7 1026.6,411.5 1026.9,410.5 1027.2,413.4 1027.6,411.9 1027.9,412.6 1028.3,411.3 1028.6,411.2 1028.9,411.2 1029.3,410.9 1029.6,411.1 1030,411.7 1030.3,411.7 1030.6,412.7 1031,410.5 1031.3,412.2 1031.7,412.2 1032,413.4 1032.3,411.5 1032.7,411.8 1033,410.5 1033.4,411.5 1033.7,411.2 1034,410.2 1034.4,410.5 1034.7,411.2 1035.1,412.0 1035.4,410.3 1035.7,412.3 1036.1,410.7 1036.4,412.6 1036.8,411.8 1037.1,409.8 1037.4,409.7 1037.8,413.1 1038.1,411.6 1038.5,411.9 1038.8,411.3 1039.1,411.9 1039.5,413.2 1039.8,413.2 1040.2,411.7 1040.5,413.7 1040.8,412.6 1041.2,411.3 1041.5,413.5 1041.9,412.5 1042.2,413.6 1042.5,412.3 1042.9,413.1 1043.2,410.8 1043.6,412.5 1043.9,410.2 1044.2,411.6 1044.6,408.7 1044.9,411.0 1045.3,411.8 1045.6,411.7 1045.9,412.7 1046.3,410.9 1046.6,414.2 1047,414.8 1047.3,412.2 1047.6,412.5 1048,412.4 1048.3,412.7 1048.7,412.9 1049,410.6 1049.3,414.0 1049.7,413.3 1050,412.3 1050.4,413.8 1050.7,411.8 1051,412.7 1051.4,411.8 1051.7,410.8 1052.1,412.4 1052.4,412.1 1052.7,410.9 1053.1,409.8 1053.4,410.8 1053.8,411.7 1054.1,410.8 1054.4,412.9 1054.8,411.8 1055.1,412.1 1055.5,412.6 1055.8,411.5 1056.1,412.3 1056.5,411.8 1056.8,410.2 1057.2,410.7 1057.5,413.2 1057.8,411.9 1058.2,412.1 1058.5,410.5 1058.9,411.1 1059.2,412.4 1059.5,411.7 1059.9,411.2 1060.2,413.3 1060.6,411.7 1060.9,411.5 1061.2,413.2 1061.6,410.5 1061.9,412.9 1062.3,411.2 1062.6,411.4 1062.9,411.3 1063.3,411.8 1063.6,411.7 1064,411.9 1064.3,411.8 1064.6,413.0 1065,413.4 1065.3,412.4 1065.7,412.4 1066,411.1 1066.3,410.3 1066.7,411.9 1067,411.3 1067.4,412.2 1067.7,409.5 1068,414.2 1068.4,410.4 1068.7,411.8 1069.1,412.7 1069.4,410.1 1069.7,410.7 1070.1,409.1 1070.4,409.7 1070.8,409.3 1071.1,411.6 1071.4,412.0 1071.8,411.6 1072.1,413.4 1072.5,414.0 1072.8,413.1 1073.1,413.3 1073.5,413.2 1073.8,412.7 1074.2,414.0 1074.5,412.6 1074.8,412.0 1075.2,412.3 1075.5,413.3 1075.9,412.4 1076.2,412.8 1076.5,411.9 1076.9,412.8 1077.2,412.2 1077.6,409.5 1077.9,410.9 1078.2,412.1 1078.6,411.5 1078.9,413.3 1079.3,413.2 1079.6,413.5 1079.9,412.5 1080.3,412.5 1080.6,412.5 1081,410.5 1081.3,411.3 1081.6,411.2 1082,413.7 1082.3,411.9 1082.7,411.6 1083,411.4 1083.3,411.0 1083.7,411.3 1084,413.3 1084.4,412.4 1084.7,414.5 1085,413.1 1085.4,412.9 1085.7,412.5 1086.1,412.6 1086.4,412.7 1086.7,414.1 1087.1,414.7 1087.4,411.0 1087.8,412.1 1088.1,412.2 1088.4,410.2 1088.8,410.3 1089.1,410.6 1089.5,408.8 1089.8,412.1 1090.1,411.7 1090.5,411.8 1090.8,412.2 1091.2,412.5 1091.5,414.8 1091.8,412.8 1092.2,413.6 1092.5,412.2 1092.9,413.0 1093.2,412.2 1093.5,412.4 1093.9,411.9 1094.2,412.2 1094.6,413.7 1094.9,414.3 1095.2,414.2 1095.6,413.1 1095.9,414.0 1096.3,410.9 1096.6,414.1 1096.9,412.8 1097.3,413.0 1097.6,413.9 1098,412.4 1098.3,413.6 1098.6,411.9 1099,412.5 1099.3,411.2 1099.7,411.7 1100,412.8 1100.3,410.7 1100.7,410.8 1101,411.0 1101.4,411.7 1101.7,414.2 1102,411.1 1102.4,410.0 1102.7,411.6 1103.1,410.9 1103.4,411.9 1103.7,412.4 1104.1,411.5 1104.4,412.0 1104.8,411.2 1105.1,413.6 1105.4,412.8 1105.8,414.6 1106.1,414.4 1106.5,412.3 1106.8,412.5 1107.1,412.4 1107.5,412.7 1107.8,410.1 1108.2,411.7 1108.5,413.9 1108.8,412.3 1109.2,413.0 1109.5,413.0 1109.9,412.1 1110.2,414.3 1110.5,413.6 1110.9,413.4 1111.2,413.7 1111.6,413.4 1111.9,410.5 1112.2,412.6 1112.6,411.4 1112.9,412.1 1113.3,411.2 1113.6,411.2 1113.9,413.2 1114.3,412.4 1114.6,411.9 1115,411.6 1115.3,411.5 1115.6,411.0 1116,408.6 1116.3,410.3 1116.7,411.3 1117,412.6 1117.3,413.5 1117.7,411.4 1118,414.5 1118.4,412.8 1118.7,413.2 1119,411.9 1119.4,411.3 1119.7,412.8 1120.1,410.8 1120.4,410.9 1120.7,412.3 1121.1,413.1 1121.4,410.2 1121.8,411.9 1122.1,412.4 1122.4,414.4 1122.8,415.0 1123.1,412.4 1123.5,412.7 1123.8,413.0 1124.1,413.0 1124.5,411.3 1124.8,412.3 1125.2,410.8 1125.5,409.0 1125.8,410.5 1126.2,412.3 1126.5,412.9 1126.9,409.9 1127.2,410.4 1127.5,412.2 1127.9,408.8 1128.2,412.5 1128.6,412.6 1128.9,408.0 1129.2,411.1 1129.6,409.7 1129.9,411.4 1130.3,410.7 1130.6,410.6 1130.9,411.3 1131.3,412.3 1131.6,411.7 1132,411.7 1132.3,410.4 1132.6,412.7 1133,412.7 1133.3,415.1 1133.7,413.9 1134,414.3 1134.3,414.2 1134.7,415.6 1135,414.2 1135.4,413.0 1135.7,414.4 1136,413.9 1136.4,411.3 1136.7,410.7 1137.1,413.0 1137.4,411.5 1137.7,415.6 1138.1,413.1 1138.4,414.5 1138.8,412.1 1139.1,413.0 1139.4,413.8 1139.8,413.0 1140.1,412.1 1140.5,415.1 1140.8,413.3 1141.1,412.0 1141.5,411.2 1141.8,411.3 1142.2,412.8 1142.5,410.8 1142.8,411.9 1143.2,411.4 1143.5,413.9 1143.9,412.7 1144.2,413.8 1144.5,413.4 1144.9,412.1 1145.2,413.1 1145.6,413.4 1145.9,411.7 1146.2,414.1 1146.6,417.4 1146.9,413.7 1147.3,414.6 1147.6,412.2 1147.9,413.5 1148.3,412.0 1148.6,413.1 1149,412.2 1149.3,411.2 1149.6,413.7 1150,412.6 1150.3,412.0 1150.7,413.1 1151,412.0 1151.3,413.3 1151.7,412.6 1152,412.1 1152.4,412.7 1152.7,410.4 1153,412.6 1153.4,409.9 1153.7,414.0 1154.1,413.2 1154.4,413.1 1154.7,412.8 1155.1,413.9 1155.4,412.8 1155.8,412.3 1156.1,413.1 1156.4,411.2 1156.8,411.1 1157.1,411.7 1157.5,412.4 1157.8,411.5 1158.1,412.0 1158.5,411.9 1158.8,412.5 1159.2,413.3 1159.5,411.0 1159.8,412.0 1160.2,412.2 1160.5,412.9 1160.9,413.8 1161.2,412.5 1161.5,413.1 1161.9,414.3 1162.2,412.2 1162.6,412.8 1162.9,413.3 1163.2,413.7 1163.6,413.9 1163.9,413.0 1164.3,414.9 1164.6,412.0 1164.9,412.1 1165.3,413.1 1165.6,412.5 1166,411.7 1166.3,412.2 1166.6,412.7 1167,411.8 1167.3,412.3 1167.7,410.5 1168,411.5 1168.3,410.0 1168.7,411.2 1169,411.3 1169.4,414.0 1169.7,412.2 1170,412.9 1170.4,411.6 1170.7,412.3 1171.1,412.2 1171.4,411.6 1171.7,413.2 1172.1,410.6 1172.4,412.9 1172.8,415.0 1173.1,411.4 1173.4,412.3 1173.8,410.9 1174.1,412.8 1174.5,411.4 1174.8,414.0 1175.1,413.0 1175.5,411.6 1175.8,412.0 1176.2,411.5 1176.5,412.4 1176.8,413.0 1177.2,411.2 1177.5,410.2 1177.9,410.8 1178.2,412.3 1178.5,410.4 1178.9,414.1 1179.2,414.1 1179.6,411.1 1179.9,414.4 1180.2,411.0 1180.6,412.0 1180.9,413.3 1181.3,410.5 1181.6,410.5 1181.9,411.5 1182.3,411.5 1182.6,412.3 1183,411.5 1183.3,411.2 1183.6,411.0 1184,411.2 1184.3,410.4 1184.7,411.6 1185,411.2 1185.3,410.2 1185.7,413.0 1186,409.9 1186.4,411.9 1186.7,410.3 1187,411.3 1187.4,411.3 1187.7,411.6 1188.1,412.4 1188.4,410.6 1188.7,414.9 1189.1,412.9 1189.4,412.1 1189.8,411.7 1190.1,415.4 1190.4,414.4 1190.8,412.3 1191.1,412.7 1191.5,413.0 1191.8,411.7 1192.1,411.2 1192.5,411.7 1192.8,412.7 1193.2,411.9 1193.5,410.6 1193.8,412.8 1194.2,410.7 1194.5,412.0 1194.9,414.3 1195.2,413.2 1195.5,413.0 1195.9,412.7 1196.2,413.5 1196.6,412.2 1196.9,410.1 1197.2,412.0 1197.6,408.4 1197.9,409.3 1198.3,413.0 1198.6,412.6 1198.9,411.1 1199.3,411.4 1199.6,411.3 1200,412.1 1200.3,410.4 1200.6,410.6 1201,411.2 1201.3,412.2 1201.7,412.4 1202,411.8 1202.3,413.1 1202.7,411.4 1203,412.4 1203.4,411.7 1203.7,411.2 1204,413.3 1204.4,411.7 1204.7,411.0 1205.1,412.2 1205.4,411.2 1205.7,412.7 1206.1,412.9 1206.4,413.1 1206.8,411.1 1207.1,412.3 1207.4,414.6 1207.8,412.7 1208.1,414.3 1208.5,414.6 1208.8,411.7 1209.1,414.3 1209.5,413.8 1209.8,413.8 1210.2,414.3 1210.5,412.4 1210.8,411.2 1211.2,411.0 1211.5,409.6 1211.9,410.5 1212.2,408.3 1212.5,412.4 1212.9,410.6 1213.2,411.8 1213.6,411.4 1213.9,410.6 1214.2,410.1 1214.6,409.9 1214.9,408.4 1215.3,409.8 1215.6,411.7 1215.9,409.5 1216.3,409.2 1216.6,412.2 1217,411.4 1217.3,412.1 1217.6,410.9 1218,411.5 1218.3,412.1 1218.7,411.9 1219,411.0 1219.3,409.3 1219.7,409.4 1220,408.0 1220.4,410.6 1220.7,408.7 1221,409.3 1221.4,410.3 1221.7,410.5 1222.1,411.5 1222.4,410.8 1222.7,410.3 1223.1,413.6 1223.4,411.1 1223.8,410.8 1224.1,409.8 1224.4,409.3 1224.8,409.3 1225.1,409.9 1225.5,408.2 1225.8,409.8 1226.1,409.3 1226.5,411.4 1226.8,409.2 1227.2,410.6 1227.5,411.2 1227.8,409.1 1228.2,410.3 1228.5,410.0 1228.9,408.9 1229.2,409.4 1229.5,410.7 1229.9,410.1 1230.2,409.5 1230.6,409.8 1230.9,410.6 1231.2,411.7 1231.6,411.5 1231.9,411.6 1232.3,412.5 1232.6,409.5 1232.9,409.6 1233.3,408.8 1233.6,411.9 1234,409.0 1234.3,411.5 1234.6,412.6 1235,410.8 1235.3,411.6 1235.7,412.0 1236,413.0 1236.3,410.7 1236.7,412.6 1237,412.9 1237.4,412.1 1237.7,411.6 1238,412.2 1238.4,410.9 1238.7,410.7 1239.1,410.7 1239.4,412.1 1239.7,411.4 1240.1,412.4 1240.4,411.8 1240.8,412.7 1241.1,410.7 1241.4,411.2 1241.8,411.1 1242.1,410.9 1242.5,411.6 1242.8,411.3 1243.1,412.6 1243.5,414.3 1243.8,413.7 1244.2,411.8 1244.5,411.1 1244.8,412.5 1245.2,410.8 1245.5,410.8 1245.9,409.9 1246.2,411.2 1246.5,411.1 1246.9,408.9 1247.2,410.3 1247.6,409.8 1247.9,409.0 1248.2,411.0 1248.6,410.5 1248.9,411.2 1249.3,413.2 1249.6,412.0 1249.9,411.6 1250.3,409.8 1250.6,408.8 1251,411.0 1251.3,409.3 1251.6,409.4 1252,408.6 1252.3,408.8 1252.7,410.8 1253,408.2 1253.3,408.3 1253.7,409.0 1254,409.3 1254.4,408.0 1254.7,407.5 1255,408.6 1255.4,408.8 1255.7,407.9 1256.1,407.3 1256.4,406.9 1256.7,407.1 1257.1,407.1 1257.4,405.4 1257.8,406.1 1258.1,406.3 1258.4,405.1 1258.8,403.3 1259.1,403.6 1259.5,403.5 1259.8,403.9 1260.1,401.7 1260.5,403.7 1260.8,402.6 1261.2,403.0 1261.5,402.9 1261.8,401.0 1262.2,400.3 1262.5,400.0 1262.9,399.7 1263.2,397.5 1263.5,395.5 1263.9,394.4 1264.2,393.4 1264.6,391.8 1264.9,388.4 1265.2,386.3 1265.6,384.4 1265.9,382.5 1266.3,380.0 1266.6,378.1 1266.9,376.0 1267.3,373.3 1267.6,370.6 1268,367.3 1268.3,365.2 1268.6,363.1 1269,362.6 1269.3,361.9 1269.7,360.8 1270,361.6 1270.3,361.2 1270.7,362.4 1271,363.5 1271.4,366.4 1271.7,368.5 1272,371.5 1272.4,374.4 1272.7,376.5 1273.1,378.5 1273.4,381.6 1273.7,384.0 1274.1,386.3 1274.4,388.7 1274.8,389.8 1275.1,391.3 1275.4,394.2 1275.8,395.1 1276.1,395.4 1276.5,396.0 1276.8,397.7 1277.1,399.7 1277.5,401.5 1277.8,404.1 1278.2,402.9 1278.5,404.1 1278.8,404.4 1279.2,405.3 1279.5,405.3 1279.9,405.1 1280.2,407.3 1280.5,406.9 1280.9,408.2 1281.2,406.8 1281.6,407.7 1281.9,408.2 1282.2,405.9 1282.6,406.2 1282.9,407.9 1283.3,407.0 1283.6,405.2 1283.9,406.4 1284.3,406.4 1284.6,407.4 1285,409.5 1285.3,407.6 1285.6,410.0 1286,408.1 1286.3,408.1 1286.7,410.9 1287,411.0 1287.3,412.1 1287.7,412.9 1288,412.1 1288.4,411.9 1288.7,408.6 1289,409.1 1289.4,410.2 1289.7,410.2 1290.1,410.9 1290.4,410.0 1290.7,411.5 1291.1,412.4 1291.4,411.1 1291.8,411.7 1292.1,411.8 1292.4,412.4 1292.8,411.8 1293.1,410.8 1293.5,411.2 1293.8,410.8 1294.1,409.0 1294.5,410.6 1294.8,410.5 1295.2,411.0 1295.5,410.6 1295.8,411.9 1296.2,412.1 1296.5,410.6 1296.9,411.4 1297.2,411.8 1297.5,411.9 1297.9,410.6 1298.2,410.7 1298.6,412.0 1298.9,411.3 1299.2,415.1 1299.6,412.3 1299.9,412.5 1300.3,414.0 1300.6,412.8 1300.9,410.9 1301.3,413.0 1301.6,412.2 1302,412.5 1302.3,411.2 1302.6,411.6 1303,412.1 1303.3,412.1 1303.7,411.1 1304,411.4 1304.3,410.8 1304.7,411.2 1305,410.3 1305.4,408.7 1305.7,410.4 1306,409.2 1306.4,410.6 1306.7,409.7 1307.1,411.2 1307.4,410.9 1307.7,411.1 1308.1,411.7 1308.4,412.0 1308.8,412.1 1309.1,412.5 1309.4,411.3 1309.8,412.4 1310.1,410.1 1310.5,409.8 1310.8,411.4 1311.1,411.4 1311.5,413.1 1311.8,412.5 1312.2,413.0 1312.5,411.6 1312.8,412.2 1313.2,412.7 1313.5,411.7 1313.9,411.2 1314.2,410.8 1314.5,409.8 1314.9,409.8 1315.2,409.3 1315.6,411.0 1315.9,410.3 1316.2,410.1 1316.6,411.5 1316.9,411.2 1317.3,413.3 1317.6,414.4 1317.9,413.0 1318.3,411.7 1318.6,410.6 1319,413.8 1319.3,411.9 1319.6,410.2 1320,412.4 1320.3,409.7 1320.7,411.0 1321,411.3 1321.3,411.4 1321.7,410.9 1322,414.6 1322.4,411.9 1322.7,412.5 1323,411.8 1323.4,409.8 1323.7,410.7 1324.1,411.6 1324.4,412.8 1324.7,412.0 1325.1,413.0 1325.4,412.4 1325.8,413.1 1326.1,409.9 1326.4,412.8 1326.8,411.6 1327.1,411.7 1327.5,409.6 1327.8,411.5 1328.1,413.3 1328.5,415.0 1328.8,412.0 1329.2,411.9 1329.5,412.9 1329.8,412.4 1330.2,411.4 1330.5,411.8 1330.9,412.0 1331.2,413.5 1331.5,414.2 1331.9,415.3 1332.2,414.4 1332.6,413.8 1332.9,413.0 1333.2,413.6 1333.6,411.7 1333.9,414.9 1334.3,413.2 1334.6,414.4 1334.9,412.2 1335.3,413.7 1335.6,412.8 1336,411.9 1336.3,411.2 1336.6,410.7 1337,413.2 1337.3,412.6 1337.7,411.4 1338,411.4 1338.3,410.5 1338.7,409.6 1339,410.0 1339.4,411.5 1339.7,412.1 1340,411.0 1340.4,412.8 1340.7,412.3 1341.1,411.9 1341.4,410.0 1341.7,411.6 1342.1,411.8 1342.4,410.7 1342.8,409.8 1343.1,413.9 1343.4,412.6 1343.8,411.6 1344.1,413.8 1344.5,413.8 1344.8,413.7 1345.1,414.1 1345.5,414.9 1345.8,415.5 1346.2,413.7 1346.5,412.9 1346.8,413.2 1347.2,409.4 1347.5,412.0 1347.9,411.4 1348.2,412.0 1348.5,412.2 1348.9,413.1 1349.2,413.1 1349.6,413.2 1349.9,413.0 1350.2,413.6 1350.6,412.7 1350.9,414.3 1351.3,411.8 1351.6,413.6 1351.9,413.8 1352.3,411.9 1352.6,412.6 1353,414.3 1353.3,413.0 1353.6,412.4 1354,410.5 1354.3,413.9 1354.7,413.5 1355,413.7 1355.3,414.7 1355.7,412.3 1356,412.2 1356.4,411.3 1356.7,412.0 1357,412.1 1357.4,412.9 1357.7,412.7 1358.1,411.5 1358.4,411.9 1358.7,413.9 1359.1,411.6 1359.4,413.3 1359.8,414.1 1360.1,413.0 1360.4,412.7 1360.8,414.1 1361.1,413.5 1361.5,413.4 1361.8,413.3 1362.1,414.7 1362.5,414.3 1362.8,415.2 1363.2,413.5 1363.5,413.7 1363.8,413.6 1364.2,414.1 1364.5,412.8 1364.9,414.1 1365.2,413.4 1365.5,412.2 1365.9,410.5 1366.2,411.9 1366.6,415.1 1366.9,413.4 1367.2,413.2 1367.6,412.3 1367.9,412.8 1368.3,410.3 1368.6,410.0 1368.9,410.3 1369.3,412.0 1369.6,412.7 1370,412.6 1370.3,412.0 1370.6,410.9 1371,413.0 1371.3,412.1 1371.7,412.5 1372,412.7 1372.3,412.3 1372.7,411.9 1373,411.8 1373.4,410.9 1373.7,412.4 1374,412.2 1374.4,413.7 1374.7,411.2 1375.1,414.3 1375.4,412.9 1375.7,412.6 1376.1,411.7 1376.4,411.8 1376.8,411.4 1377.1,414.0 1377.4,412.9 1377.8,413.5 1378.1,413.2 1378.5,411.5 1378.8,411.5 1379.1,411.4 1379.5,413.0 1379.8,412.4 1380.2,412.9 1380.5,413.8 1380.8,413.4 1381.2,415.6 1381.5,412.6 1381.9,414.7 1382.2,414.7 1382.5,412.2 1382.9,414.2 1383.2,413.6 1383.6,413.9 1383.9,411.6 1384.2,412.8 1384.6,411.6 1384.9,412.5 1385.3,414.4 1385.6,413.0 1385.9,410.9 1386.3,411.7 1386.6,411.8 1387,413.9 1387.3,412.2 1387.6,411.4 1388,414.0 1388.3,412.9 1388.7,412.6 1389,411.0 1389.3,412.9 1389.7,411.3 1390,409.6 1390.4,410.8 1390.7,411.5 1391,412.5 1391.4,413.6 1391.7,412.1 1392.1,412.3 1392.4,415.2 1392.7,413.1 1393.1,412.4 1393.4,412.8 1393.8,411.2 1394.1,412.8 1394.4,413.1 1394.8,411.4 1395.1,412.8 1395.5,411.6 1395.8,412.3 1396.1,411.6 1396.5,411.8 1396.8,411.2 1397.2,412.9 1397.5,412.2 1397.8,412.0 1398.2,411.1 1398.5,411.2 1398.9,411.8 1399.2,412.8 1399.5,412.5 1399.9,411.4 1400.2,412.3 1400.6,413.8 1400.9,412.2 1401.2,414.0 1401.6,412.2 1401.9,413.0 1402.3,411.2" fill="none" stroke="#43389b" stroke-width="3.4" stroke-linejoin="round"/>
<polyline points="224.5,773.5 224.8,773.3 225.2,773.1 225.5,770.7 225.9,773.3 226.2,770.4 226.5,773.1 226.9,772.5 227.2,772.5 227.6,772.3 227.9,771.7 228.2,770.7 228.6,770.9 228.9,772.7 229.3,770.8 229.6,771.6 229.9,771.7 230.3,772.5 230.6,773.2 231,773.9 231.3,773.4 231.6,773.3 232,773.0 232.3,773.6 232.7,772.2 233,773.8 233.3,775.2 233.7,773.2 234,773.8 234.4,776.4 234.7,772.3 235,771.4 235.4,772.4 235.7,774.5 236.1,774.7 236.4,771.4 236.7,773.2 237.1,772.6 237.4,772.1 237.8,771.0 238.1,774.4 238.4,773.0 238.8,774.4 239.1,774.3 239.5,776.0 239.8,775.1 240.1,772.5 240.5,773.3 240.8,774.4 241.2,771.9 241.5,772.8 241.8,773.3 242.2,771.5 242.5,771.9 242.9,771.4 243.2,773.5 243.5,773.0 243.9,774.9 244.2,774.6 244.6,775.4 244.9,774.7 245.2,775.1 245.6,773.6 245.9,772.2 246.3,774.1 246.6,773.9 246.9,775.3 247.3,773.0 247.6,772.8 248,772.2 248.3,770.2 248.6,773.1 249,775.3 249.3,774.2 249.7,772.8 250,776.1 250.3,774.8 250.7,774.7 251,774.1 251.4,773.8 251.7,774.0 252,771.6 252.4,773.1 252.7,773.0 253.1,774.8 253.4,772.8 253.7,775.6 254.1,774.6 254.4,775.4 254.8,772.8 255.1,773.9 255.4,773.3 255.8,771.5 256.1,773.1 256.5,773.5 256.8,773.5 257.1,774.0 257.5,773.3 257.8,774.2 258.2,774.8 258.5,773.6 258.8,772.9 259.2,775.6 259.5,774.3 259.9,774.8 260.2,774.5 260.5,774.1 260.9,775.1 261.2,773.7 261.6,774.0 261.9,772.2 262.2,772.0 262.6,773.4 262.9,776.1 263.3,774.8 263.6,777.1 263.9,776.1 264.3,776.6 264.6,775.9 265,776.7 265.3,778.4 265.6,777.5 266,775.3 266.3,775.1 266.7,776.7 267,774.7 267.3,776.2 267.7,774.5 268,776.1 268.4,777.1 268.7,776.3 269,775.5 269.4,775.0 269.7,774.5 270.1,774.2 270.4,775.1 270.7,774.8 271.1,773.9 271.4,772.3 271.8,773.3 272.1,774.5 272.4,774.4 272.8,773.0 273.1,774.9 273.5,776.8 273.8,773.0 274.1,774.3 274.5,775.8 274.8,773.8 275.2,773.8 275.5,774.4 275.8,774.8 276.2,773.7 276.5,774.9 276.9,771.9 277.2,774.4 277.5,774.4 277.9,774.3 278.2,775.6 278.6,776.0 278.9,777.7 279.2,775.9 279.6,775.8 279.9,773.8 280.3,773.3 280.6,773.8 280.9,772.4 281.3,773.4 281.6,773.4 282,774.7 282.3,775.7 282.6,776.6 283,773.7 283.3,775.4 283.7,776.4 284,776.8 284.3,776.7 284.7,773.8 285,774.6 285.4,775.8 285.7,776.2 286,775.6 286.4,775.5 286.7,775.3 287.1,774.2 287.4,775.0 287.7,775.5 288.1,774.3 288.4,775.8 288.8,771.8 289.1,774.5 289.4,776.8 289.8,776.2 290.1,776.9 290.5,775.7 290.8,774.3 291.1,774.7 291.5,776.4 291.8,772.7 292.2,773.1 292.5,772.0 292.8,773.0 293.2,773.1 293.5,774.2 293.9,773.1 294.2,776.0 294.5,775.4 294.9,774.6 295.2,774.5 295.6,774.2 295.9,776.1 296.2,778.1 296.6,776.1 296.9,775.2 297.3,776.1 297.6,775.7 297.9,775.3 298.3,774.3 298.6,776.0 299,777.4 299.3,777.0 299.6,776.8 300,776.0 300.3,776.2 300.7,776.8 301,775.9 301.3,776.4 301.7,776.0 302,777.8 302.4,776.1 302.7,778.0 303,778.3 303.4,778.2 303.7,777.7 304.1,776.1 304.4,775.7 304.7,775.6 305.1,775.3 305.4,774.4 305.8,775.0 306.1,774.8 306.4,774.6 306.8,776.0 307.1,775.0 307.5,776.2 307.8,777.7 308.1,778.2 308.5,776.7 308.8,777.6 309.2,776.6 309.5,778.5 309.8,777.5 310.2,776.8 310.5,775.5 310.9,775.4 311.2,776.2 311.5,775.7 311.9,775.4 312.2,776.3 312.6,774.5 312.9,774.1 313.2,775.7 313.6,776.1 313.9,777.6 314.3,777.0 314.6,777.7 314.9,775.9 315.3,779.5 315.6,778.7 316,777.6 316.3,778.7 316.6,779.4 317,778.7 317.3,777.6 317.7,778.3 318,778.6 318.3,776.6 318.7,776.4 319,777.3 319.4,778.7 319.7,778.8 320,777.0 320.4,777.9 320.7,776.9 321.1,775.5 321.4,774.5 321.7,774.4 322.1,774.9 322.4,776.3 322.8,776.0 323.1,774.4 323.4,775.1 323.8,777.6 324.1,777.2 324.5,776.1 324.8,777.7 325.1,778.2 325.5,777.5 325.8,776.6 326.2,777.6 326.5,775.6 326.8,775.2 327.2,774.9 327.5,777.9 327.9,778.3 328.2,776.1 328.5,776.6 328.9,776.3 329.2,776.8 329.6,777.2 329.9,776.9 330.2,776.3 330.6,776.1 330.9,775.9 331.3,774.5 331.6,777.2 331.9,776.5 332.3,777.5 332.6,777.5 333,776.8 333.3,777.7 333.6,778.8 334,778.4 334.3,776.9 334.7,776.5 335,777.5 335.3,776.9 335.7,776.8 336,776.3 336.4,777.4 336.7,777.2 337,780.3 337.4,777.9 337.7,777.9 338.1,780.2 338.4,778.2 338.7,777.3 339.1,778.5 339.4,775.8 339.8,778.7 340.1,778.3 340.4,778.5 340.8,777.1 341.1,779.0 341.5,777.7 341.8,777.0 342.1,777.1 342.5,775.7 342.8,776.2 343.2,774.8 343.5,775.3 343.8,776.9 344.2,776.8 344.5,777.6 344.9,776.3 345.2,777.1 345.5,776.8 345.9,777.9 346.2,778.6 346.6,779.1 346.9,778.9 347.2,777.7 347.6,778.6 347.9,777.0 348.3,775.5 348.6,777.1 348.9,776.7 349.3,777.5 349.6,778.0 350,776.6 350.3,777.4 350.6,778.5 351,778.4 351.3,778.4 351.7,776.2 352,777.1 352.3,778.1 352.7,779.6 353,776.8 353.4,779.9 353.7,778.1 354,776.9 354.4,779.6 354.7,777.4 355.1,777.5 355.4,779.7 355.7,780.3 356.1,779.5 356.4,778.6 356.8,777.4 357.1,778.6 357.4,775.7 357.8,776.3 358.1,778.7 358.5,778.2 358.8,778.7 359.1,777.8 359.5,776.1 359.8,777.5 360.2,775.2 360.5,777.8 360.8,778.8 361.2,776.8 361.5,779.0 361.9,778.1 362.2,777.6 362.5,775.2 362.9,776.3 363.2,776.8 363.6,774.1 363.9,775.7 364.2,776.3 364.6,776.4 364.9,779.8 365.3,779.3 365.6,779.3 365.9,779.9 366.3,777.6 366.6,781.1 367,777.0 367.3,776.1 367.6,777.8 368,777.6 368.3,776.4 368.7,776.6 369,778.4 369.3,777.8 369.7,778.0 370,778.5 370.4,777.2 370.7,779.2 371,778.2 371.4,779.2 371.7,777.8 372.1,779.4 372.4,778.7 372.7,780.4 373.1,777.3 373.4,778.8 373.8,778.1 374.1,779.5 374.4,778.5 374.8,778.9 375.1,776.3 375.5,777.4 375.8,779.9 376.1,779.4 376.5,779.8 376.8,778.6 377.2,779.4 377.5,778.0 377.8,778.1 378.2,779.3 378.5,779.3 378.9,778.1 379.2,779.1 379.5,780.0 379.9,780.1 380.2,780.4 380.6,779.4 380.9,780.6 381.2,778.6 381.6,778.5 381.9,780.7 382.3,781.4 382.6,781.5 382.9,780.1 383.3,779.0 383.6,779.9 384,780.0 384.3,778.0 384.6,777.0 385,775.8 385.3,776.1 385.7,780.0 386,777.5 386.3,778.7 386.7,779.2 387,779.7 387.4,777.8 387.7,779.2 388,778.9 388.4,778.3 388.7,777.7 389.1,778.1 389.4,776.8 389.7,779.5 390.1,778.4 390.4,777.6 390.8,778.8 391.1,779.1 391.4,778.9 391.8,779.2 392.1,779.9 392.5,778.5 392.8,779.4 393.1,779.6 393.5,778.0 393.8,780.7 394.2,779.6 394.5,780.5 394.8,780.7 395.2,779.5 395.5,780.9 395.9,780.6 396.2,779.4 396.5,776.0 396.9,780.1 397.2,778.6 397.6,778.2 397.9,778.4 398.2,778.1 398.6,779.1 398.9,780.3 399.3,778.8 399.6,780.1 399.9,779.1 400.3,779.0 400.6,778.3 401,778.3 401.3,778.4 401.6,776.9 402,777.8 402.3,778.6 402.7,776.1 403,778.9 403.3,778.1 403.7,778.5 404,779.7 404.4,778.5 404.7,778.2 405,780.1 405.4,780.1 405.7,779.8 406.1,782.7 406.4,779.4 406.7,779.0 407.1,780.3 407.4,779.1 407.8,780.2 408.1,779.0 408.4,778.9 408.8,779.6 409.1,778.8 409.5,777.7 409.8,778.7 410.1,779.9 410.5,779.3 410.8,780.1 411.2,781.1 411.5,780.6 411.8,779.8 412.2,779.1 412.5,780.1 412.9,780.9 413.2,780.4 413.5,779.7 413.9,777.9 414.2,779.3 414.6,779.6 414.9,780.2 415.2,777.8 415.6,778.5 415.9,779.5 416.3,779.6 416.6,779.1 416.9,780.4 417.3,779.8 417.6,781.2 418,779.6 418.3,780.1 418.6,777.6 419,779.8 419.3,778.9 419.7,780.1 420,779.0 420.3,780.0 420.7,777.8 421,776.6 421.4,778.2 421.7,778.6 422,777.4 422.4,777.1 422.7,779.4 423.1,780.1 423.4,780.1 423.7,779.7 424.1,779.7 424.4,781.4 424.8,780.6 425.1,779.2 425.4,779.2 425.8,781.0 426.1,781.2 426.5,779.9 426.8,779.9 427.1,781.8 427.5,780.7 427.8,781.9 428.2,780.0 428.5,780.1 428.8,779.3 429.2,781.0 429.5,780.6 429.9,779.4 430.2,781.2 430.5,780.7 430.9,781.4 431.2,783.2 431.6,783.0 431.9,782.5 432.2,781.5 432.6,780.5 432.9,780.9 433.3,781.1 433.6,782.6 433.9,780.3 434.3,780.6 434.6,780.9 435,780.8 435.3,780.7 435.6,780.1 436,778.2 436.3,780.3 436.7,779.5 437,778.6 437.3,779.0 437.7,779.9 438,780.2 438.4,781.3 438.7,779.8 439,780.0 439.4,779.7 439.7,780.6 440.1,778.7 440.4,780.5 440.7,778.9 441.1,779.3 441.4,779.9 441.8,779.8 442.1,782.4 442.4,778.8 442.8,777.6 443.1,778.4 443.5,780.7 443.8,779.1 444.1,781.5 444.5,780.5 444.8,781.6 445.2,779.4 445.5,781.9 445.8,781.9 446.2,779.7 446.5,781.8 446.9,782.8 447.2,780.1 447.5,779.2 447.9,779.8 448.2,780.5 448.6,782.1 448.9,783.1 449.2,780.7 449.6,780.6 449.9,779.0 450.3,779.6 450.6,780.4 450.9,777.8 451.3,780.3 451.6,780.4 452,780.5 452.3,778.5 452.6,777.4 453,778.7 453.3,778.1 453.7,777.7 454,779.0 454.3,778.7 454.7,782.1 455,781.0 455.4,781.0 455.7,778.9 456,781.4 456.4,779.9 456.7,781.6 457.1,780.4 457.4,782.5 457.7,780.3 458.1,781.7 458.4,781.2 458.8,779.6 459.1,780.6 459.4,779.7 459.8,779.7 460.1,780.6 460.5,781.0 460.8,779.4 461.1,780.9 461.5,780.7 461.8,780.6 462.2,781.5 462.5,778.3 462.8,781.0 463.2,779.9 463.5,779.3 463.9,779.7 464.2,781.2 464.5,781.8 464.9,781.7 465.2,780.2 465.6,780.1 465.9,781.6 466.2,781.9 466.6,780.2 466.9,781.4 467.3,780.8 467.6,780.6 467.9,779.5 468.3,781.8 468.6,781.8 469,782.4 469.3,781.4 469.6,779.5 470,780.7 470.3,780.8 470.7,779.6 471,778.5 471.3,780.4 471.7,780.8 472,779.4 472.4,780.2 472.7,779.7 473,781.4 473.4,781.1 473.7,782.5 474.1,780.0 474.4,782.5 474.7,781.3 475.1,782.1 475.4,780.9 475.8,782.3 476.1,781.8 476.4,782.2 476.8,782.4 477.1,782.6 477.5,782.7 477.8,781.6 478.1,780.4 478.5,782.0 478.8,780.9 479.2,779.9 479.5,781.6 479.8,780.1 480.2,780.3 480.5,777.8 480.9,779.0 481.2,782.0 481.5,781.0 481.9,781.6 482.2,781.0 482.6,782.2 482.9,783.2 483.2,783.0 483.6,782.9 483.9,781.0 484.3,781.5 484.6,781.4 484.9,782.2 485.3,782.0 485.6,781.5 486,780.7 486.3,780.7 486.6,781.5 487,779.8 487.3,780.9 487.7,780.7 488,780.8 488.3,782.5 488.7,780.4 489,781.1 489.4,781.7 489.7,780.6 490,780.0 490.4,778.5 490.7,781.2 491.1,778.4 491.4,777.8 491.7,781.5 492.1,779.7 492.4,780.5 492.8,781.3 493.1,780.8 493.4,779.6 493.8,781.6 494.1,781.6 494.5,781.7 494.8,780.6 495.1,779.9 495.5,779.4 495.8,780.8 496.2,780.5 496.5,779.5 496.8,780.7 497.2,779.6 497.5,781.5 497.9,780.0 498.2,781.0 498.5,780.9 498.9,778.5 499.2,781.9 499.6,781.4 499.9,780.7 500.2,780.7 500.6,781.0 500.9,780.4 501.3,780.5 501.6,779.7 501.9,780.1 502.3,780.0 502.6,779.0 503,779.5 503.3,781.8 503.6,781.8 504,781.3 504.3,780.0 504.7,780.7 505,780.7 505.3,782.4 505.7,780.9 506,780.1 506.4,780.2 506.7,780.9 507,782.0 507.4,780.1 507.7,781.9 508.1,780.4 508.4,780.4 508.7,779.8 509.1,781.3 509.4,780.1 509.8,781.6 510.1,780.4 510.4,782.5 510.8,781.0 511.1,780.9 511.5,779.7 511.8,782.3 512.1,781.4 512.5,781.4 512.8,781.5 513.2,781.2 513.5,781.1 513.8,781.7 514.2,780.1 514.5,780.3 514.9,782.5 515.2,780.4 515.5,780.7 515.9,782.5 516.2,781.4 516.6,784.2 516.9,782.9 517.2,781.5 517.6,781.8 517.9,780.6 518.3,781.4 518.6,780.0 518.9,781.3 519.3,779.0 519.6,781.0 520,782.3 520.3,782.5 520.6,782.3 521,783.3 521.3,783.6 521.7,783.0 522,783.2 522.3,783.5 522.7,782.2 523,779.0 523.4,779.6 523.7,780.2 524,781.5 524.4,781.1 524.7,782.1 525.1,783.0 525.4,783.0 525.7,781.7 526.1,783.2 526.4,780.5 526.8,780.0 527.1,780.5 527.4,778.6 527.8,782.6 528.1,783.6 528.5,781.6 528.8,781.9 529.1,780.6 529.5,783.3 529.8,782.1 530.2,781.3 530.5,780.6 530.8,781.2 531.2,780.6 531.5,780.3 531.9,779.8 532.2,778.8 532.5,782.1 532.9,781.8 533.2,780.6 533.6,779.9 533.9,780.2 534.2,781.8 534.6,781.6 534.9,781.4 535.3,782.3 535.6,780.6 535.9,782.5 536.3,781.2 536.6,780.1 537,781.2 537.3,780.8 537.6,779.7 538,782.2 538.3,779.0 538.7,781.0 539,781.2 539.3,780.0 539.7,780.7 540,781.8 540.4,779.2 540.7,778.7 541,778.4 541.4,777.7 541.7,776.5 542.1,774.1 542.4,771.0 542.7,771.4 543.1,770.2 543.4,770.3 543.8,768.5 544.1,769.6 544.4,771.8 544.8,773.4 545.1,775.1 545.5,775.3 545.8,776.3 546.1,778.5 546.5,776.7 546.8,778.0 547.2,779.6 547.5,780.6 547.8,780.4 548.2,782.0 548.5,781.0 548.9,781.6 549.2,781.7 549.5,780.9 549.9,779.3 550.2,780.0 550.6,779.9 550.9,779.1 551.2,780.8 551.6,779.9 551.9,779.3 552.3,781.1 552.6,780.4 552.9,782.4 553.3,779.7 553.6,780.8 554,782.5 554.3,782.5 554.6,782.0 555,783.3 555.3,781.7 555.7,781.6 556,783.3 556.3,782.6 556.7,783.7 557,785.0 557.4,783.6 557.7,783.2 558,781.8 558.4,782.0 558.7,781.6 559.1,781.9 559.4,781.8 559.7,783.6 560.1,782.4 560.4,782.7 560.8,782.5 561.1,784.0 561.4,782.7 561.8,782.2 562.1,781.3 562.5,782.6 562.8,783.7 563.1,780.7 563.5,782.6 563.8,783.2 564.2,783.5 564.5,784.1 564.8,783.1 565.2,783.0 565.5,782.6 565.9,783.1 566.2,781.1 566.5,781.5 566.9,781.0 567.2,781.8 567.6,781.9 567.9,781.5 568.2,783.2 568.6,783.9 568.9,781.9 569.3,783.0 569.6,783.2 569.9,781.1 570.3,784.8 570.6,784.0 571,783.4 571.3,783.0 571.6,781.2 572,779.8 572.3,782.3 572.7,782.6 573,782.3 573.3,782.1 573.7,783.5 574,783.2 574.4,782.4 574.7,781.9 575,784.6 575.4,783.3 575.7,782.8 576.1,781.7 576.4,781.8 576.7,780.8 577.1,783.1 577.4,783.0 577.8,781.9 578.1,781.5 578.4,781.6 578.8,782.5 579.1,780.5 579.5,781.5 579.8,783.8 580.1,783.2 580.5,783.2 580.8,781.3 581.2,783.2 581.5,781.4 581.8,780.8 582.2,779.9 582.5,780.9 582.9,780.9 583.2,780.8 583.5,783.0 583.9,783.3 584.2,782.8 584.6,782.6 584.9,782.7 585.2,783.2 585.6,779.9 585.9,782.9 586.3,782.4 586.6,784.9 586.9,783.6 587.3,783.4 587.6,783.9 588,783.4 588.3,783.2 588.6,783.6 589,781.6 589.3,783.6 589.7,782.1 590,783.0 590.3,782.8 590.7,783.8 591,784.2 591.4,783.6 591.7,781.6 592,781.9 592.4,782.3 592.7,782.6 593.1,783.7 593.4,783.3 593.7,782.8 594.1,784.9 594.4,784.0 594.8,785.0 595.1,783.0 595.4,783.2 595.8,782.5 596.1,781.9 596.5,780.4 596.8,781.6 597.1,780.0 597.5,782.1 597.8,783.6 598.2,783.1 598.5,782.1 598.8,781.1 599.2,781.7 599.5,779.6 599.9,779.2 600.2,779.0 600.5,780.7 600.9,779.2 601.2,781.1 601.6,781.2 601.9,780.3 602.2,778.7 602.6,778.3 602.9,776.0 603.3,776.6 603.6,777.2 603.9,776.2 604.3,772.5 604.6,772.5 605,771.0 605.3,771.0 605.6,770.1 606,770.0 606.3,770.3 606.7,772.0 607,773.0 607.3,774.5 607.7,775.5 608,775.7 608.4,778.0 608.7,778.7 609,779.1 609.4,779.6 609.7,780.9 610.1,781.3 610.4,782.2 610.7,781.6 611.1,781.8 611.4,780.9 611.8,779.5 612.1,779.0 612.4,780.6 612.8,780.3 613.1,780.9 613.5,778.3 613.8,780.4 614.1,780.8 614.5,780.5 614.8,780.7 615.2,779.3 615.5,780.9 615.8,782.0 616.2,779.3 616.5,780.5 616.9,778.8 617.2,779.3 617.5,780.3 617.9,779.2 618.2,779.8 618.6,780.5 618.9,780.1 619.2,781.5 619.6,778.5 619.9,780.0 620.3,778.3 620.6,778.3 620.9,779.2 621.3,777.5 621.6,777.6 622,778.5 622.3,776.9 622.6,778.6 623,774.1 623.3,772.9 623.7,769.4 624,769.8 624.3,767.5 624.7,765.9 625,763.0 625.4,759.8 625.7,756.1 626,755.4 626.4,752.0 626.7,749.0 627.1,747.9 627.4,744.0 627.7,742.2 628.1,738.8 628.4,737.4 628.8,734.4 629.1,735.0 629.4,732.2 629.8,730.3 630.1,728.8 630.5,727.6 630.8,726.0 631.1,723.3 631.5,718.9 631.8,713.9 632.2,704.9 632.5,693.8 632.8,678.4 633.2,657.5 633.5,633.0 633.9,603.4 634.2,571.7 634.5,537.6 634.9,506.0 635.2,479.0 635.6,460.1 635.9,452.0 636.2,455.7 636.6,471.3 636.9,496.6 637.3,528.9 637.6,564.7 637.9,600.6 638.3,635.3 638.6,665.4 639,690.7 639.3,711.6 639.6,727.4 640,739.6 640.3,748.6 640.7,755.4 641,761.0 641.3,764.4 641.7,766.2 642,769.0 642.4,769.9 642.7,771.7 643,772.9 643.4,772.6 643.7,774.2 644.1,775.6 644.4,775.4 644.7,774.8 645.1,776.4 645.4,776.4 645.8,778.8 646.1,778.6 646.4,778.9 646.8,780.3 647.1,779.3 647.5,779.0 647.8,777.6 648.1,779.4 648.5,779.7 648.8,780.6 649.2,779.9 649.5,781.7 649.8,782.3 650.2,780.6 650.5,779.3 650.9,780.5 651.2,779.7 651.5,780.6 651.9,779.5 652.2,779.0 652.6,778.6 652.9,780.3 653.2,778.4 653.6,780.1 653.9,782.5 654.3,782.3 654.6,782.7 654.9,782.5 655.3,781.0 655.6,781.5 656,781.8 656.3,781.6 656.6,779.9 657,781.2 657.3,782.3 657.7,782.1 658,783.6 658.3,782.3 658.7,780.7 659,782.2 659.4,782.3 659.7,782.9 660,782.9 660.4,784.0 660.7,783.3 661.1,783.0 661.4,782.4 661.7,782.7 662.1,784.1 662.4,784.4 662.8,782.7 663.1,782.5 663.4,782.2 663.8,782.8 664.1,782.8 664.5,782.5 664.8,783.9 665.1,781.8 665.5,782.7 665.8,782.2 666.2,782.2 666.5,781.2 666.8,780.4 667.2,781.6 667.5,781.0 667.9,782.1 668.2,781.9 668.5,785.3 668.9,781.1 669.2,782.4 669.6,785.2 669.9,784.2 670.2,783.4 670.6,785.6 670.9,787.3 671.3,785.3 671.6,786.0 671.9,783.5 672.3,783.9 672.6,784.4 673,784.4 673.3,783.6 673.6,783.5 674,783.1 674.3,782.3 674.7,782.0 675,781.8 675.3,782.9 675.7,781.3 676,783.4 676.4,784.6 676.7,782.9 677,782.3 677.4,782.1 677.7,783.0 678.1,782.8 678.4,784.8 678.7,784.8 679.1,786.1 679.4,785.9 679.8,786.6 680.1,787.3 680.4,786.6 680.8,788.1 681.1,786.2 681.5,784.1 681.8,784.6 682.1,784.3 682.5,783.5 682.8,784.3 683.2,784.4 683.5,785.2 683.8,783.8 684.2,783.0 684.5,783.7 684.9,782.7 685.2,782.4 685.5,784.3 685.9,784.6 686.2,783.8 686.6,785.1 686.9,782.5 687.2,782.2 687.6,785.5 687.9,782.1 688.3,784.5 688.6,783.8 688.9,781.3 689.3,784.6 689.6,782.9 690,783.2 690.3,782.9 690.6,783.1 691,783.8 691.3,785.3 691.7,783.4 692,782.9 692.3,784.2 692.7,784.0 693,781.3 693.4,784.5 693.7,783.8 694,783.9 694.4,782.5 694.7,785.5 695.1,783.8 695.4,782.7 695.7,782.8 696.1,783.3 696.4,783.7 696.8,784.7 697.1,784.2 697.4,783.1 697.8,783.3 698.1,784.3 698.5,783.0 698.8,783.9 699.1,785.4 699.5,784.6 699.8,786.1 700.2,783.6 700.5,784.1 700.8,783.4 701.2,782.9 701.5,784.1 701.9,783.9 702.2,782.6 702.5,782.2 702.9,784.0 703.2,783.9 703.6,780.4 703.9,782.6 704.2,780.9 704.6,781.6 704.9,782.7 705.3,782.3 705.6,784.0 705.9,782.8 706.3,782.9 706.6,783.2 707,785.4 707.3,784.4 707.6,785.4 708,785.2 708.3,785.7 708.7,784.3 709,784.0 709.3,785.5 709.7,784.7 710,783.3 710.4,783.9 710.7,785.0 711,786.1 711.4,785.1 711.7,787.5 712.1,786.5 712.4,785.7 712.7,784.4 713.1,785.9 713.4,785.3 713.8,783.1 714.1,785.3 714.4,785.0 714.8,785.0 715.1,783.4 715.5,784.2 715.8,781.2 716.1,783.8 716.5,783.1 716.8,783.5 717.2,784.2 717.5,783.1 717.8,783.9 718.2,783.4 718.5,784.0 718.9,783.9 719.2,785.5 719.5,786.4 719.9,784.1 720.2,783.4 720.6,784.7 720.9,785.2 721.2,784.7 721.6,782.9 721.9,783.7 722.3,782.8 722.6,783.4 722.9,784.0 723.3,783.9 723.6,784.8 724,783.8 724.3,785.8 724.6,784.3 725,782.9 725.3,784.8 725.7,784.6 726,784.2 726.3,784.2 726.7,784.9 727,785.6 727.4,784.8 727.7,785.7 728,784.1 728.4,784.7 728.7,782.8 729.1,783.7 729.4,783.8 729.7,782.6 730.1,783.4 730.4,780.9 730.8,782.0 731.1,781.0 731.4,780.9 731.8,779.1 732.1,778.6 732.5,777.7 732.8,774.3 733.1,773.4 733.5,773.1 733.8,772.4 734.2,773.3 734.5,773.6 734.8,775.9 735.2,776.5 735.5,779.9 735.9,781.1 736.2,782.4 736.5,781.3 736.9,784.6 737.2,785.4 737.6,785.3 737.9,784.3 738.2,785.0 738.6,783.9 738.9,783.5 739.3,784.4 739.6,784.1 739.9,786.7 740.3,782.6 740.6,784.8 741,783.4 741.3,783.3 741.6,784.2 742,783.2 742.3,784.1 742.7,782.7 743,782.7 743.3,782.9 743.7,784.2 744,782.5 744.4,783.2 744.7,783.3 745,783.7 745.4,783.3 745.7,784.3 746.1,785.1 746.4,785.9 746.7,784.9 747.1,783.9 747.4,786.0 747.8,783.0 748.1,785.1 748.4,783.3 748.8,784.1 749.1,782.7 749.5,782.3 749.8,783.3 750.1,785.7 750.5,784.5 750.8,785.4 751.2,784.4 751.5,784.9 751.8,784.2 752.2,784.4 752.5,784.6 752.9,786.0 753.2,785.6 753.5,784.8 753.9,785.5 754.2,784.8 754.6,786.0 754.9,785.4 755.2,784.9 755.6,784.7 755.9,784.0 756.3,784.4 756.6,782.0 756.9,783.2 757.3,782.1 757.6,782.7 758,780.8 758.3,779.3 758.6,780.1 759,779.8 759.3,779.6 759.7,780.6 760,782.3 760.3,781.1 760.7,782.3 761,783.5 761.4,784.1 761.7,784.4 762,785.4 762.4,784.2 762.7,783.1 763.1,782.6 763.4,784.8 763.7,785.4 764.1,784.2 764.4,785.0 764.8,783.3 765.1,786.5 765.4,785.9 765.8,784.1 766.1,786.2 766.5,786.0 766.8,786.0 767.1,784.8 767.5,785.1 767.8,784.0 768.2,786.3 768.5,784.8 768.8,786.3 769.2,785.4 769.5,784.2 769.9,785.3 770.2,783.1 770.5,784.0 770.9,783.9 771.2,784.0 771.6,784.6 771.9,785.3 772.2,784.2 772.6,783.9 772.9,783.9 773.3,783.4 773.6,783.1 773.9,784.6 774.3,783.2 774.6,785.3 775,785.2 775.3,785.8 775.6,786.0 776,785.7 776.3,785.3 776.7,786.2 777,784.0 777.3,782.7 777.7,783.1 778,783.7 778.4,784.7 778.7,785.1 779,783.4 779.4,784.2 779.7,784.7 780.1,783.0 780.4,785.4 780.7,784.9 781.1,784.8 781.4,785.7 781.8,786.0 782.1,783.6 782.4,785.6 782.8,785.5 783.1,784.2 783.5,784.5 783.8,783.5 784.1,782.9 784.5,783.6 784.8,782.0 785.2,784.7 785.5,785.1 785.8,785.1 786.2,785.4 786.5,784.4 786.9,784.1 787.2,782.7 787.5,782.6 787.9,783.5 788.2,785.3 788.6,784.7 788.9,786.3 789.2,786.0 789.6,784.4 789.9,784.9 790.3,784.3 790.6,784.0 790.9,785.7 791.3,786.3 791.6,784.9 792,786.8 792.3,786.6 792.6,785.0 793,785.8 793.3,784.5 793.7,785.6 794,786.3 794.3,784.2 794.7,787.7 795,784.7 795.4,786.4 795.7,785.8 796,787.3 796.4,785.7 796.7,786.1 797.1,789.4 797.4,787.5 797.7,786.0 798.1,783.8 798.4,784.4 798.8,782.5 799.1,783.6 799.4,785.3 799.8,786.2 800.1,785.6 800.5,787.0 800.8,787.2 801.1,785.4 801.5,786.6 801.8,786.3 802.2,787.5 802.5,784.6 802.8,785.8 803.2,785.0 803.5,787.0 803.9,782.7 804.2,786.5 804.5,784.5 804.9,785.1 805.2,783.1 805.6,783.5 805.9,784.7 806.2,785.1 806.6,782.7 806.9,784.5 807.3,784.9 807.6,785.5 807.9,786.5 808.3,786.1 808.6,785.3 809,784.0 809.3,783.2 809.6,784.6 810,785.6 810.3,783.8 810.7,784.4 811,782.3 811.3,784.3 811.7,783.4 812,784.0 812.4,784.9 812.7,785.3 813,785.1 813.4,785.4 813.7,785.3 814.1,784.2 814.4,784.7 814.7,785.2 815.1,787.2 815.4,784.7 815.8,786.0 816.1,786.6 816.4,786.0 816.8,784.1 817.1,783.7 817.5,784.5 817.8,785.5 818.1,786.0 818.5,784.9 818.8,785.0 819.2,784.2 819.5,783.5 819.8,785.3 820.2,785.7 820.5,783.8 820.9,783.3 821.2,785.0 821.5,783.1 821.9,783.5 822.2,785.2 822.6,787.1 822.9,785.5 823.2,786.3 823.6,788.1 823.9,785.4 824.3,784.8 824.6,788.1 824.9,786.2 825.3,784.0 825.6,784.1 826,784.0 826.3,782.8 826.6,785.9 827,782.5 827.3,786.3 827.7,785.4 828,785.2 828.3,785.2 828.7,784.3 829,784.7 829.4,784.5 829.7,783.6 830,785.6 830.4,783.6 830.7,783.8 831.1,786.6 831.4,784.3 831.7,786.7 832.1,786.8 832.4,786.0 832.8,787.4 833.1,785.0 833.4,784.2 833.8,784.2 834.1,784.1 834.5,785.1 834.8,787.0 835.1,784.5 835.5,785.2 835.8,785.3 836.2,785.2 836.5,784.4 836.8,786.0 837.2,784.3 837.5,783.7 837.9,786.3 838.2,786.0 838.5,784.7 838.9,784.2 839.2,785.6 839.6,786.1 839.9,786.6 840.2,786.2 840.6,783.9 840.9,784.2 841.3,784.2 841.6,784.9 841.9,784.9 842.3,785.5 842.6,786.2 843,786.7 843.3,784.8 843.6,786.0 844,786.6 844.3,785.9 844.7,785.7 845,785.6 845.3,785.2 845.7,785.6 846,784.5 846.4,783.4 846.7,786.2 847,785.7 847.4,784.0 847.7,786.6 848.1,786.4 848.4,784.1 848.7,785.4 849.1,784.5 849.4,784.5 849.8,783.5 850.1,785.8 850.4,783.4 850.8,783.6 851.1,784.5 851.5,785.1 851.8,784.6 852.1,786.7 852.5,784.2 852.8,787.5 853.2,783.8 853.5,785.7 853.8,787.1 854.2,787.7 854.5,785.2 854.9,783.9 855.2,784.7 855.5,784.8 855.9,785.9 856.2,784.3 856.6,786.2 856.9,784.4 857.2,786.3 857.6,788.1 857.9,786.3 858.3,786.5 858.6,785.0 858.9,783.9 859.3,784.3 859.6,784.3 860,781.1 860.3,783.5 860.6,786.8 861,785.6 861.3,785.4 861.7,784.9 862,784.9 862.3,785.1 862.7,782.2 863,787.3 863.4,786.1 863.7,785.0 864,787.1 864.4,785.7 864.7,787.2 865.1,785.3 865.4,786.9 865.7,784.6 866.1,787.3 866.4,785.0 866.8,786.3 867.1,786.5 867.4,784.1 867.8,785.6 868.1,784.9 868.5,785.5 868.8,786.5 869.1,785.5 869.5,786.7 869.8,784.4 870.2,784.0 870.5,785.7 870.8,783.5 871.2,784.7 871.5,783.4 871.9,784.2 872.2,784.7 872.5,783.7 872.9,783.8 873.2,782.9 873.6,785.0 873.9,783.2 874.2,783.3 874.6,784.5 874.9,784.4 875.3,783.9 875.6,784.8 875.9,784.3 876.3,783.4 876.6,783.8 877,785.8 877.3,784.8 877.6,784.3 878,784.8 878.3,785.5 878.7,786.9 879,783.8 879.3,785.3 879.7,784.4 880,785.4 880.4,784.9 880.7,785.2 881,785.5 881.4,785.9 881.7,786.6 882.1,787.8 882.4,784.4 882.7,784.2 883.1,784.3 883.4,786.3 883.8,786.4 884.1,786.6 884.4,785.9 884.8,785.5 885.1,784.5 885.5,786.0 885.8,786.3 886.1,785.4 886.5,785.0 886.8,784.3 887.2,785.7 887.5,785.0 887.8,786.0 888.2,784.5 888.5,784.5 888.9,786.3 889.2,785.1 889.5,783.5 889.9,784.4 890.2,784.4 890.6,785.6 890.9,784.3 891.2,787.2 891.6,787.5 891.9,786.8 892.3,786.6 892.6,786.3 892.9,785.6 893.3,787.0 893.6,785.1 894,788.7 894.3,785.5 894.6,786.9 895,785.6 895.3,785.7 895.7,786.2 896,784.9 896.3,786.9 896.7,786.5 897,786.7 897.4,786.7 897.7,785.1 898,785.8 898.4,786.0 898.7,787.7 899.1,786.8 899.4,786.3 899.7,787.4 900.1,786.5 900.4,787.4 900.8,787.6 901.1,787.1 901.4,785.2 901.8,786.7 902.1,784.7 902.5,784.9 902.8,785.8 903.1,784.8 903.5,786.3 903.8,785.5 904.2,785.4 904.5,786.8 904.8,786.1 905.2,787.3 905.5,783.7 905.9,785.8 906.2,785.1 906.5,786.3 906.9,786.2 907.2,788.7 907.6,787.2 907.9,786.2 908.2,786.7 908.6,783.0 908.9,786.5 909.3,782.9 909.6,785.1 909.9,787.2 910.3,784.5 910.6,785.1 911,783.9 911.3,784.3 911.6,786.3 912,786.0 912.3,785.1 912.7,785.6 913,784.4 913.3,783.6 913.7,783.9 914,783.1 914.4,782.1 914.7,784.2 915,785.0 915.4,785.8 915.7,785.4 916.1,784.6 916.4,784.4 916.7,785.3 917.1,785.9 917.4,785.4 917.8,784.7 918.1,785.3 918.4,782.5 918.8,785.4 919.1,786.5 919.5,783.6 919.8,785.6 920.1,784.7 920.5,784.4 920.8,785.9 921.2,785.7 921.5,784.7 921.8,786.6 922.2,785.7 922.5,783.8 922.9,787.5 923.2,786.3 923.5,787.8 923.9,785.3 924.2,785.6 924.6,786.5 924.9,787.7 925.2,788.4 925.6,786.9 925.9,790.7 926.3,785.8 926.6,785.8 926.9,787.7 927.3,787.1 927.6,786.3 928,784.8 928.3,784.5 928.6,786.9 929,783.8 929.3,785.0 929.7,785.8 930,786.0 930.3,786.8 930.7,785.9 931,786.2 931.4,786.6 931.7,786.1 932,786.7 932.4,785.1 932.7,785.1 933.1,785.6 933.4,784.9 933.7,785.6 934.1,784.9 934.4,785.2 934.8,786.0 935.1,783.5 935.4,784.3 935.8,785.0 936.1,786.9 936.5,784.6 936.8,787.0 937.1,786.5 937.5,786.1 937.8,786.7 938.2,786.8 938.5,785.6 938.8,787.1 939.2,785.9 939.5,785.5 939.9,785.1 940.2,786.5 940.5,786.5 940.9,786.5 941.2,787.6 941.6,785.8 941.9,784.5 942.2,784.6 942.6,784.2 942.9,784.6 943.3,784.4 943.6,786.8 943.9,783.9 944.3,787.6 944.6,785.5 945,784.4 945.3,784.7 945.6,785.3 946,785.5 946.3,785.0 946.7,786.3 947,783.6 947.3,783.5 947.7,784.8 948,782.9 948.4,783.7 948.7,785.2 949,785.4 949.4,785.2 949.7,785.1 950.1,784.3 950.4,784.7 950.7,785.1 951.1,785.3 951.4,786.6 951.8,785.7 952.1,786.3 952.4,785.1 952.8,785.6 953.1,782.2 953.5,786.4 953.8,783.7 954.1,784.4 954.5,784.5 954.8,787.0 955.2,783.8 955.5,784.9 955.8,784.9 956.2,787.5 956.5,786.7 956.9,784.6 957.2,785.2 957.5,785.4 957.9,784.3 958.2,786.2 958.6,784.9 958.9,782.8 959.2,784.4 959.6,784.2 959.9,784.0 960.3,785.0 960.6,785.8 960.9,785.0 961.3,784.8 961.6,785.9 962,784.0 962.3,786.8 962.6,784.3 963,785.3 963.3,784.5 963.7,784.8 964,783.4 964.3,784.0 964.7,781.7 965,784.3 965.4,783.0 965.7,783.1 966,781.5 966.4,782.3 966.7,781.7 967.1,782.2 967.4,781.2 967.7,782.2 968.1,779.8 968.4,783.1 968.8,780.8 969.1,782.6 969.4,782.9 969.8,782.2 970.1,780.2 970.5,781.0 970.8,780.5 971.1,779.6 971.5,778.2 971.8,776.9 972.2,775.6 972.5,774.8 972.8,774.4 973.2,773.5 973.5,772.7 973.9,772.0 974.2,771.4 974.5,769.6 974.9,768.9 975.2,766.0 975.6,764.5 975.9,760.9 976.2,758.7 976.6,757.1 976.9,755.7 977.3,754.5 977.6,754.4 977.9,752.1 978.3,753.7 978.6,753.0 979,754.3 979.3,755.8 979.6,757.2 980,759.7 980.3,760.4 980.7,763.5 981,765.2 981.3,766.8 981.7,769.7 982,770.4 982.4,772.8 982.7,775.3 983,775.7 983.4,776.4 983.7,777.1 984.1,778.4 984.4,778.7 984.7,781.1 985.1,780.3 985.4,779.6 985.8,779.7 986.1,781.0 986.4,779.1 986.8,779.4 987.1,781.6 987.5,781.3 987.8,780.1 988.1,782.0 988.5,781.7 988.8,781.6 989.2,781.7 989.5,781.7 989.8,782.5 990.2,783.3 990.5,781.8 990.9,783.3 991.2,781.5 991.5,782.8 991.9,784.1 992.2,783.2 992.6,782.9 992.9,784.7 993.2,783.9 993.6,783.7 993.9,784.0 994.3,782.2 994.6,783.2 994.9,785.3 995.3,784.6 995.6,785.7 996,783.5 996.3,784.3 996.6,785.8 997,786.2 997.3,783.7 997.7,786.0 998,785.7 998.3,785.4 998.7,786.4 999,785.1 999.4,786.1 999.7,785.9 1000,784.4 1000.4,784.7 1000.7,782.2 1001.1,784.7 1001.4,784.0 1001.7,782.2 1002.1,782.1 1002.4,783.5 1002.8,785.6 1003.1,783.5 1003.4,782.1 1003.8,783.0 1004.1,781.6 1004.5,783.6 1004.8,783.8 1005.1,785.0 1005.5,786.3 1005.8,785.1 1006.2,787.7 1006.5,786.1 1006.8,786.7 1007.2,786.3 1007.5,785.2 1007.9,785.2 1008.2,785.2 1008.5,787.0 1008.9,785.5 1009.2,784.5 1009.6,786.6 1009.9,787.0 1010.2,785.8 1010.6,787.3 1010.9,787.0 1011.3,785.4 1011.6,787.4 1011.9,784.9 1012.3,785.3 1012.6,786.7 1013,784.4 1013.3,783.3 1013.6,785.1 1014,785.7 1014.3,785.4 1014.7,785.0 1015,784.2 1015.3,786.8 1015.7,786.9 1016,786.4 1016.4,786.8 1016.7,784.5 1017,786.9 1017.4,787.5 1017.7,786.9 1018.1,786.9 1018.4,786.3 1018.7,786.2 1019.1,783.9 1019.4,785.6 1019.8,786.3 1020.1,785.2 1020.4,784.6 1020.8,785.7 1021.1,785.2 1021.5,787.4 1021.8,785.7 1022.1,785.8 1022.5,787.1 1022.8,784.6 1023.2,785.9 1023.5,787.4 1023.8,785.1 1024.2,785.7 1024.5,787.1 1024.9,786.8 1025.2,785.0 1025.5,784.7 1025.9,784.4 1026.2,784.1 1026.6,785.6 1026.9,784.7 1027.2,784.5 1027.6,784.8 1027.9,786.8 1028.3,783.5 1028.6,785.8 1028.9,786.2 1029.3,785.1 1029.6,784.7 1030,786.4 1030.3,786.3 1030.6,788.2 1031,785.6 1031.3,786.6 1031.7,785.0 1032,787.0 1032.3,786.6 1032.7,786.1 1033,786.5 1033.4,786.3 1033.7,786.4 1034,786.3 1034.4,787.4 1034.7,787.0 1035.1,785.9 1035.4,785.9 1035.7,785.8 1036.1,787.1 1036.4,785.7 1036.8,785.6 1037.1,784.6 1037.4,786.6 1037.8,786.1 1038.1,786.1 1038.5,786.1 1038.8,786.5 1039.1,784.3 1039.5,784.8 1039.8,785.0 1040.2,785.5 1040.5,784.7 1040.8,785.1 1041.2,784.7 1041.5,785.4 1041.9,784.4 1042.2,784.8 1042.5,785.2 1042.9,785.3 1043.2,786.5 1043.6,786.2 1043.9,786.6 1044.2,786.8 1044.6,788.5 1044.9,786.9 1045.3,788.2 1045.6,787.1 1045.9,787.8 1046.3,787.5 1046.6,786.5 1047,785.4 1047.3,786.5 1047.6,786.3 1048,785.7 1048.3,785.7 1048.7,785.5 1049,788.1 1049.3,785.6 1049.7,784.6 1050,784.7 1050.4,787.1 1050.7,784.8 1051,787.0 1051.4,785.8 1051.7,786.5 1052.1,786.5 1052.4,787.9 1052.7,786.9 1053.1,787.3 1053.4,786.3 1053.8,784.6 1054.1,787.5 1054.4,784.4 1054.8,785.7 1055.1,785.7 1055.5,784.7 1055.8,783.3 1056.1,785.9 1056.5,783.2 1056.8,785.5 1057.2,785.9 1057.5,783.8 1057.8,786.1 1058.2,785.0 1058.5,786.6 1058.9,784.3 1059.2,788.2 1059.5,787.2 1059.9,786.5 1060.2,785.9 1060.6,787.4 1060.9,786.1 1061.2,785.9 1061.6,785.1 1061.9,785.2 1062.3,785.5 1062.6,784.7 1062.9,785.7 1063.3,787.1 1063.6,785.8 1064,786.0 1064.3,785.6 1064.6,787.3 1065,784.5 1065.3,783.2 1065.7,782.2 1066,785.0 1066.3,786.3 1066.7,787.6 1067,785.6 1067.4,786.8 1067.7,789.1 1068,786.2 1068.4,786.8 1068.7,787.4 1069.1,786.5 1069.4,787.3 1069.7,785.2 1070.1,786.2 1070.4,786.2 1070.8,787.6 1071.1,787.0 1071.4,786.9 1071.8,785.1 1072.1,787.3 1072.5,785.8 1072.8,787.3 1073.1,784.5 1073.5,785.2 1073.8,785.9 1074.2,788.3 1074.5,786.0 1074.8,787.1 1075.2,786.6 1075.5,787.5 1075.9,786.0 1076.2,787.3 1076.5,784.7 1076.9,788.0 1077.2,786.3 1077.6,785.5 1077.9,787.6 1078.2,786.7 1078.6,785.8 1078.9,787.8 1079.3,785.7 1079.6,784.6 1079.9,785.8 1080.3,786.1 1080.6,786.1 1081,784.1 1081.3,787.6 1081.6,786.8 1082,787.6 1082.3,786.2 1082.7,786.5 1083,786.7 1083.3,787.3 1083.7,789.5 1084,787.5 1084.4,787.4 1084.7,788.6 1085,788.8 1085.4,788.2 1085.7,786.8 1086.1,785.6 1086.4,785.0 1086.7,786.9 1087.1,786.5 1087.4,787.8 1087.8,788.4 1088.1,785.5 1088.4,785.3 1088.8,785.3 1089.1,783.4 1089.5,785.4 1089.8,786.4 1090.1,788.1 1090.5,783.7 1090.8,785.8 1091.2,786.4 1091.5,783.7 1091.8,784.9 1092.2,787.1 1092.5,785.5 1092.9,786.3 1093.2,787.1 1093.5,788.3 1093.9,787.5 1094.2,786.7 1094.6,787.9 1094.9,786.2 1095.2,785.8 1095.6,786.8 1095.9,786.9 1096.3,787.1 1096.6,786.9 1096.9,785.9 1097.3,784.3 1097.6,784.4 1098,786.0 1098.3,787.4 1098.6,785.8 1099,786.3 1099.3,787.6 1099.7,785.6 1100,787.5 1100.3,786.0 1100.7,785.8 1101,786.9 1101.4,785.7 1101.7,787.4 1102,785.4 1102.4,785.6 1102.7,785.8 1103.1,786.8 1103.4,785.0 1103.7,786.3 1104.1,786.5 1104.4,787.2 1104.8,785.4 1105.1,786.3 1105.4,786.9 1105.8,788.2 1106.1,786.4 1106.5,787.1 1106.8,786.8 1107.1,783.0 1107.5,786.1 1107.8,785.5 1108.2,784.1 1108.5,784.1 1108.8,784.7 1109.2,785.1 1109.5,785.0 1109.9,784.8 1110.2,785.6 1110.5,786.8 1110.9,786.2 1111.2,788.1 1111.6,788.9 1111.9,788.6 1112.2,787.2 1112.6,787.3 1112.9,784.5 1113.3,786.3 1113.6,785.7 1113.9,784.9 1114.3,783.4 1114.6,786.9 1115,787.2 1115.3,785.8 1115.6,786.7 1116,785.2 1116.3,783.4 1116.7,785.6 1117,785.5 1117.3,786.0 1117.7,786.4 1118,785.3 1118.4,784.6 1118.7,787.1 1119,786.1 1119.4,786.2 1119.7,784.4 1120.1,782.5 1120.4,783.4 1120.7,786.0 1121.1,785.3 1121.4,782.9 1121.8,784.6 1122.1,784.7 1122.4,786.5 1122.8,788.8 1123.1,786.6 1123.5,788.0 1123.8,787.6 1124.1,787.4 1124.5,787.0 1124.8,787.3 1125.2,788.3 1125.5,787.7 1125.8,787.4 1126.2,785.2 1126.5,784.7 1126.9,785.1 1127.2,784.6 1127.5,784.1 1127.9,784.9 1128.2,787.6 1128.6,786.3 1128.9,787.5 1129.2,788.2 1129.6,787.1 1129.9,789.0 1130.3,787.4 1130.6,787.8 1130.9,786.7 1131.3,787.9 1131.6,787.1 1132,787.7 1132.3,786.1 1132.6,785.7 1133,785.8 1133.3,786.6 1133.7,784.6 1134,786.4 1134.3,786.6 1134.7,788.2 1135,784.9 1135.4,785.6 1135.7,787.7 1136,786.8 1136.4,786.5 1136.7,785.5 1137.1,785.5 1137.4,785.4 1137.7,785.9 1138.1,783.8 1138.4,784.5 1138.8,786.7 1139.1,787.0 1139.4,785.2 1139.8,788.1 1140.1,786.9 1140.5,787.3 1140.8,786.3 1141.1,786.0 1141.5,787.3 1141.8,787.5 1142.2,786.6 1142.5,787.8 1142.8,787.7 1143.2,786.0 1143.5,786.9 1143.9,787.7 1144.2,787.0 1144.5,788.4 1144.9,788.7 1145.2,786.3 1145.6,787.5 1145.9,787.7 1146.2,788.1 1146.6,785.5 1146.9,785.7 1147.3,786.7 1147.6,787.2 1147.9,786.1 1148.3,784.8 1148.6,786.2 1149,785.1 1149.3,784.6 1149.6,786.4 1150,787.3 1150.3,787.6 1150.7,786.9 1151,786.1 1151.3,785.7 1151.7,787.3 1152,785.4 1152.4,786.4 1152.7,786.3 1153,785.3 1153.4,785.8 1153.7,785.9 1154.1,786.7 1154.4,785.3 1154.7,786.0 1155.1,786.4 1155.4,785.1 1155.8,785.9 1156.1,786.0 1156.4,786.9 1156.8,785.9 1157.1,787.2 1157.5,787.7 1157.8,788.9 1158.1,787.6 1158.5,789.1 1158.8,787.8 1159.2,787.7 1159.5,785.7 1159.8,785.3 1160.2,786.0 1160.5,784.7 1160.9,787.0 1161.2,785.8 1161.5,788.5 1161.9,785.5 1162.2,786.9 1162.6,786.8 1162.9,786.7 1163.2,787.2 1163.6,785.1 1163.9,787.5 1164.3,788.6 1164.6,787.3 1164.9,785.9 1165.3,786.5 1165.6,786.7 1166,787.5 1166.3,785.9 1166.6,787.5 1167,785.5 1167.3,787.0 1167.7,786.2 1168,788.3 1168.3,786.9 1168.7,787.8 1169,786.6 1169.4,785.2 1169.7,787.3 1170,787.4 1170.4,786.7 1170.7,787.6 1171.1,785.6 1171.4,786.7 1171.7,785.7 1172.1,787.2 1172.4,785.4 1172.8,785.4 1173.1,785.5 1173.4,783.9 1173.8,785.2 1174.1,787.7 1174.5,787.2 1174.8,785.1 1175.1,786.5 1175.5,785.6 1175.8,786.5 1176.2,786.3 1176.5,786.6 1176.8,785.6 1177.2,786.8 1177.5,786.3 1177.9,786.8 1178.2,788.1 1178.5,787.6 1178.9,787.7 1179.2,787.7 1179.6,785.4 1179.9,786.0 1180.2,787.1 1180.6,787.3 1180.9,784.1 1181.3,785.5 1181.6,787.0 1181.9,789.7 1182.3,786.0 1182.6,786.5 1183,787.0 1183.3,787.7 1183.6,785.4 1184,785.9 1184.3,785.7 1184.7,785.1 1185,785.0 1185.3,786.0 1185.7,786.9 1186,786.7 1186.4,786.9 1186.7,787.0 1187,786.6 1187.4,786.2 1187.7,786.3 1188.1,788.5 1188.4,788.3 1188.7,787.1 1189.1,786.3 1189.4,785.7 1189.8,786.0 1190.1,785.3 1190.4,785.1 1190.8,785.1 1191.1,786.8 1191.5,785.8 1191.8,784.9 1192.1,786.2 1192.5,785.7 1192.8,787.3 1193.2,788.0 1193.5,787.1 1193.8,787.1 1194.2,787.6 1194.5,783.6 1194.9,783.0 1195.2,783.9 1195.5,783.7 1195.9,784.9 1196.2,786.7 1196.6,786.4 1196.9,785.5 1197.2,790.6 1197.6,786.8 1197.9,786.2 1198.3,787.9 1198.6,784.5 1198.9,784.7 1199.3,785.8 1199.6,785.1 1200,786.2 1200.3,787.2 1200.6,785.9 1201,785.1 1201.3,785.9 1201.7,785.8 1202,788.7 1202.3,785.4 1202.7,788.1 1203,786.8 1203.4,787.4 1203.7,784.7 1204,785.2 1204.4,784.6 1204.7,783.8 1205.1,784.9 1205.4,787.2 1205.7,784.2 1206.1,787.4 1206.4,786.0 1206.8,786.3 1207.1,785.0 1207.4,786.6 1207.8,787.9 1208.1,786.0 1208.5,786.8 1208.8,786.8 1209.1,786.3 1209.5,785.5 1209.8,787.2 1210.2,786.4 1210.5,784.5 1210.8,786.1 1211.2,784.0 1211.5,784.9 1211.9,783.3 1212.2,782.9 1212.5,784.1 1212.9,786.2 1213.2,784.5 1213.6,785.4 1213.9,786.0 1214.2,784.6 1214.6,783.4 1214.9,784.3 1215.3,783.6 1215.6,784.5 1215.9,783.1 1216.3,784.6 1216.6,784.1 1217,783.2 1217.3,783.2 1217.6,783.9 1218,783.9 1218.3,784.6 1218.7,785.7 1219,784.4 1219.3,784.7 1219.7,784.7 1220,782.4 1220.4,785.4 1220.7,783.3 1221,784.6 1221.4,781.0 1221.7,780.8 1222.1,782.4 1222.4,782.9 1222.7,783.9 1223.1,783.9 1223.4,784.5 1223.8,783.3 1224.1,785.5 1224.4,783.8 1224.8,781.1 1225.1,781.8 1225.5,781.7 1225.8,782.5 1226.1,782.2 1226.5,783.5 1226.8,784.9 1227.2,782.7 1227.5,783.9 1227.8,786.2 1228.2,786.0 1228.5,785.8 1228.9,783.9 1229.2,784.8 1229.5,783.9 1229.9,781.9 1230.2,783.0 1230.6,784.6 1230.9,784.1 1231.2,783.2 1231.6,783.1 1231.9,784.4 1232.3,784.2 1232.6,783.4 1232.9,785.7 1233.3,784.0 1233.6,784.4 1234,785.2 1234.3,785.4 1234.6,785.4 1235,783.4 1235.3,787.6 1235.7,785.8 1236,785.6 1236.3,784.7 1236.7,785.3 1237,785.9 1237.4,784.6 1237.7,785.8 1238,785.3 1238.4,784.1 1238.7,783.7 1239.1,785.3 1239.4,787.1 1239.7,785.3 1240.1,786.3 1240.4,785.3 1240.8,784.7 1241.1,786.7 1241.4,785.3 1241.8,788.0 1242.1,785.5 1242.5,784.9 1242.8,786.8 1243.1,787.3 1243.5,787.1 1243.8,786.2 1244.2,784.9 1244.5,787.3 1244.8,785.3 1245.2,788.7 1245.5,786.1 1245.9,786.6 1246.2,786.6 1246.5,788.1 1246.9,788.3 1247.2,786.4 1247.6,786.1 1247.9,784.5 1248.2,786.3 1248.6,782.6 1248.9,785.4 1249.3,783.9 1249.6,782.0 1249.9,783.2 1250.3,783.0 1250.6,784.2 1251,784.2 1251.3,782.9 1251.6,783.2 1252,781.5 1252.3,783.3 1252.7,781.1 1253,781.6 1253.3,780.7 1253.7,781.5 1254,782.5 1254.4,781.1 1254.7,781.8 1255,780.2 1255.4,781.4 1255.7,781.4 1256.1,780.3 1256.4,780.0 1256.7,779.0 1257.1,780.2 1257.4,780.4 1257.8,778.8 1258.1,778.7 1258.4,778.0 1258.8,777.0 1259.1,777.9 1259.5,776.4 1259.8,778.6 1260.1,778.7 1260.5,777.3 1260.8,776.0 1261.2,774.7 1261.5,774.0 1261.8,772.0 1262.2,772.6 1262.5,771.8 1262.9,771.6 1263.2,771.8 1263.5,769.8 1263.9,769.8 1264.2,768.0 1264.6,765.3 1264.9,764.4 1265.2,761.9 1265.6,759.9 1265.9,757.3 1266.3,754.4 1266.6,751.2 1266.9,748.7 1267.3,745.3 1267.6,742.3 1268,740.2 1268.3,737.2 1268.6,736.6 1269,735.4 1269.3,734.0 1269.7,734.4 1270,734.2 1270.3,734.4 1270.7,735.6 1271,737.3 1271.4,738.5 1271.7,741.4 1272,744.0 1272.4,746.4 1272.7,748.3 1273.1,751.8 1273.4,752.0 1273.7,755.5 1274.1,758.1 1274.4,761.4 1274.8,761.2 1275.1,763.4 1275.4,765.1 1275.8,767.2 1276.1,768.1 1276.5,769.0 1276.8,771.7 1277.1,772.7 1277.5,773.6 1277.8,774.3 1278.2,775.7 1278.5,776.6 1278.8,779.1 1279.2,776.8 1279.5,777.8 1279.9,778.3 1280.2,779.1 1280.5,780.4 1280.9,778.8 1281.2,779.3 1281.6,781.4 1281.9,780.7 1282.2,782.0 1282.6,780.2 1282.9,779.8 1283.3,780.9 1283.6,781.0 1283.9,782.3 1284.3,780.9 1284.6,781.5 1285,781.9 1285.3,781.3 1285.6,781.1 1286,781.5 1286.3,782.6 1286.7,783.6 1287,782.5 1287.3,782.6 1287.7,785.5 1288,782.5 1288.4,783.4 1288.7,782.5 1289,784.3 1289.4,783.3 1289.7,784.6 1290.1,784.9 1290.4,783.3 1290.7,784.4 1291.1,782.8 1291.4,784.0 1291.8,785.4 1292.1,785.3 1292.4,785.5 1292.8,785.5 1293.1,785.1 1293.5,786.3 1293.8,785.7 1294.1,785.5 1294.5,786.5 1294.8,785.1 1295.2,787.3 1295.5,785.2 1295.8,787.0 1296.2,785.7 1296.5,785.3 1296.9,785.9 1297.2,787.1 1297.5,787.2 1297.9,787.7 1298.2,787.5 1298.6,787.1 1298.9,786.5 1299.2,786.0 1299.6,786.1 1299.9,784.1 1300.3,785.8 1300.6,785.3 1300.9,784.7 1301.3,783.7 1301.6,784.2 1302,784.9 1302.3,783.4 1302.6,783.9 1303,785.1 1303.3,786.1 1303.7,784.9 1304,786.8 1304.3,784.2 1304.7,788.1 1305,785.5 1305.4,786.1 1305.7,786.6 1306,785.6 1306.4,786.4 1306.7,785.4 1307.1,787.2 1307.4,785.6 1307.7,786.3 1308.1,785.5 1308.4,786.6 1308.8,786.1 1309.1,784.5 1309.4,785.7 1309.8,786.8 1310.1,787.1 1310.5,784.9 1310.8,786.2 1311.1,785.5 1311.5,785.3 1311.8,786.6 1312.2,786.1 1312.5,783.1 1312.8,783.7 1313.2,785.7 1313.5,785.9 1313.9,785.7 1314.2,783.8 1314.5,785.3 1314.9,786.5 1315.2,785.7 1315.6,785.7 1315.9,785.7 1316.2,786.7 1316.6,787.2 1316.9,787.9 1317.3,786.1 1317.6,786.5 1317.9,785.3 1318.3,788.2 1318.6,786.5 1319,788.4 1319.3,785.9 1319.6,786.3 1320,787.2 1320.3,787.3 1320.7,785.3 1321,787.9 1321.3,788.4 1321.7,790.5 1322,789.0 1322.4,788.7 1322.7,787.3 1323,788.0 1323.4,786.7 1323.7,785.6 1324.1,786.7 1324.4,788.1 1324.7,787.2 1325.1,787.5 1325.4,787.1 1325.8,788.4 1326.1,784.1 1326.4,785.3 1326.8,786.5 1327.1,785.8 1327.5,787.8 1327.8,786.6 1328.1,785.9 1328.5,785.4 1328.8,786.5 1329.2,786.5 1329.5,785.2 1329.8,785.7 1330.2,786.7 1330.5,786.1 1330.9,785.7 1331.2,787.3 1331.5,784.9 1331.9,785.8 1332.2,787.0 1332.6,787.2 1332.9,784.9 1333.2,785.7 1333.6,785.1 1333.9,784.9 1334.3,786.7 1334.6,786.7 1334.9,788.9 1335.3,788.5 1335.6,787.8 1336,789.0 1336.3,789.0 1336.6,786.9 1337,786.0 1337.3,787.1 1337.7,788.0 1338,785.4 1338.3,785.4 1338.7,788.4 1339,787.2 1339.4,787.8 1339.7,787.5 1340,786.9 1340.4,787.5 1340.7,786.7 1341.1,787.8 1341.4,786.6 1341.7,787.0 1342.1,786.7 1342.4,785.9 1342.8,786.4 1343.1,787.7 1343.4,786.0 1343.8,786.7 1344.1,786.0 1344.5,786.0 1344.8,787.5 1345.1,784.8 1345.5,785.1 1345.8,785.3 1346.2,787.5 1346.5,786.8 1346.8,784.5 1347.2,784.9 1347.5,785.3 1347.9,785.2 1348.2,785.1 1348.5,787.0 1348.9,785.5 1349.2,786.9 1349.6,786.4 1349.9,786.1 1350.2,784.2 1350.6,784.7 1350.9,786.8 1351.3,786.0 1351.6,784.3 1351.9,786.6 1352.3,785.2 1352.6,788.3 1353,787.2 1353.3,789.8 1353.6,789.4 1354,788.7 1354.3,786.4 1354.7,787.0 1355,785.5 1355.3,785.6 1355.7,785.3 1356,786.2 1356.4,787.3 1356.7,787.9 1357,785.3 1357.4,786.5 1357.7,786.2 1358.1,788.2 1358.4,785.9 1358.7,787.2 1359.1,786.4 1359.4,786.6 1359.8,785.1 1360.1,784.6 1360.4,785.8 1360.8,785.8 1361.1,784.5 1361.5,784.3 1361.8,784.5 1362.1,785.2 1362.5,787.0 1362.8,785.7 1363.2,788.0 1363.5,785.7 1363.8,787.5 1364.2,786.9 1364.5,788.3 1364.9,790.5 1365.2,787.5 1365.5,789.3 1365.9,786.5 1366.2,788.1 1366.6,789.6 1366.9,787.0 1367.2,784.6 1367.6,785.4 1367.9,786.0 1368.3,784.9 1368.6,787.8 1368.9,787.2 1369.3,785.9 1369.6,787.5 1370,787.2 1370.3,785.2 1370.6,788.6 1371,788.1 1371.3,785.0 1371.7,788.2 1372,787.0 1372.3,787.8 1372.7,787.0 1373,785.7 1373.4,786.9 1373.7,788.1 1374,784.5 1374.4,786.3 1374.7,785.7 1375.1,787.1 1375.4,785.3 1375.7,787.4 1376.1,786.7 1376.4,787.7 1376.8,787.0 1377.1,786.1 1377.4,787.3 1377.8,787.8 1378.1,787.6 1378.5,788.6 1378.8,786.3 1379.1,786.6 1379.5,787.0 1379.8,787.9 1380.2,786.3 1380.5,786.8 1380.8,787.2 1381.2,786.5 1381.5,786.2 1381.9,788.3 1382.2,788.0 1382.5,788.6 1382.9,788.8 1383.2,786.6 1383.6,787.1 1383.9,786.6 1384.2,787.1 1384.6,788.5 1384.9,785.4 1385.3,787.5 1385.6,785.0 1385.9,786.1 1386.3,787.8 1386.6,787.4 1387,785.3 1387.3,787.0 1387.6,788.1 1388,785.3 1388.3,785.1 1388.7,786.3 1389,784.8 1389.3,784.8 1389.7,786.0 1390,787.4 1390.4,786.6 1390.7,787.3 1391,786.4 1391.4,786.2 1391.7,786.7 1392.1,785.5 1392.4,786.1 1392.7,786.5 1393.1,786.6 1393.4,786.2 1393.8,787.0 1394.1,786.8 1394.4,787.8 1394.8,785.4 1395.1,786.4 1395.5,784.7 1395.8,787.2 1396.1,784.7 1396.5,783.0 1396.8,787.1 1397.2,787.3 1397.5,787.5 1397.8,788.6 1398.2,788.2 1398.5,786.4 1398.9,785.9 1399.2,787.0 1399.5,786.3 1399.9,786.6 1400.2,786.8 1400.6,788.2 1400.9,788.0 1401.2,786.7 1401.6,787.4 1401.9,785.8 1402.3,786.4" fill="none" stroke="#d94472" stroke-width="3.4" stroke-linejoin="round"/>
<!-- frame -->
<rect x="221" y="0" width="1184" height="5.5" fill="#161616"/>
<rect x="221" y="0" width="3.9" height="873.8" fill="#161616"/>
<rect x="1401" y="0" width="4" height="873.8" fill="#161616"/>
<rect x="221" y="870.3" width="1184" height="3.5" fill="#161616"/>
<g stroke="#161616" stroke-width="2.8">
<line x1="391.6" y1="857.5" x2="391.6" y2="871" />
<line x1="560.1" y1="857.5" x2="560.1" y2="871" />
<line x1="728.7" y1="857.5" x2="728.7" y2="871" />
<line x1="897.3" y1="857.5" x2="897.3" y2="871" />
<line x1="1065.9" y1="857.5" x2="1065.9" y2="871" />
<line x1="1234.4" y1="857.5" x2="1234.4" y2="871" />
</g>
<!-- tick labels -->
<g class="lat" font-size="55.5" fill="#161616">
<text x="221.0" y="930.6" text-anchor="middle">20</text>
<text x="390.6" y="930.6" text-anchor="middle">30</text>
<text x="559.1" y="930.6" text-anchor="middle">40</text>
<text x="729.0" y="930.6" text-anchor="middle">50</text>
<text x="897.3" y="930.6" text-anchor="middle">60</text>
<text x="1066.2" y="930.6" text-anchor="middle">70</text>
<text x="1235.4" y="930.6" text-anchor="middle">80</text>
<text x="1403.3" y="930.6" text-anchor="middle">90</text>
<text x="747" y="987"><tspan>2</tspan><tspan font-style="italic">θ</tspan><tspan>/(°)</tspan></text>
</g>
<!-- y label -->
<text class="cjk" font-size="56" fill="#161616" text-anchor="middle" transform="translate(193 438) rotate(-90)">强度</text>
<!-- series labels -->
<text class="lat" font-size="55.7" fill="#352f88" x="270.5" y="344.8">HFIHS</text>
<text class="lat" font-size="55.7" fill="#dd4a7a" x="311.5" y="718.2">HIP</text>
<!-- legend -->
<g class="cjk" font-size="54.5" fill="#161616">
<text x="1216" y="68">铁素体</text>
</g>
<g class="lat" font-size="55.5" fill="#161616">
<text x="1223.5" y="130.5">M<tspan font-size="33" dy="12.5">7</tspan><tspan dy="-12.5">C</tspan><tspan font-size="33" dy="12.5">3</tspan></text>
<text x="1223.5" y="208">M<tspan font-size="33" dy="11">23</tspan><tspan dy="-11">C</tspan><tspan font-size="33" dy="11">6</tspan></text>
<text x="1223.5" y="282">MC</text>
</g>
<!-- markers -->
<g class="sym" fill="#0a0a0a">
<text transform="translate(541.9 382.9) scale(1.097 1)" x="-14.50" y="11.60" font-size="32.22">♦</text>
<text transform="translate(604.8 382.9) scale(1.097 1)" x="-14.50" y="11.60" font-size="32.22">♦</text>
<text transform="translate(626.1 348.6) scale(1.199 1)" x="-15.24" y="12.50" font-size="34.25">♣</text>
<text transform="translate(635.3 86.4) scale(1.000 1)" x="-9.26" y="5.47" font-size="21.05">●</text>
<text transform="translate(732.0 382.3) scale(1.097 1)" x="-14.50" y="11.60" font-size="32.22">♦</text>
<text transform="translate(758.5 383.8) scale(1.082 1)" x="-13.75" y="11.15" font-size="30.55">♥</text>
<text transform="translate(981.3 346.0) scale(1.097 1)" x="-14.50" y="11.60" font-size="32.22">♦</text>
<text transform="translate(979.7 372.0) scale(1.000 1)" x="-9.26" y="5.47" font-size="21.05">●</text>
<text transform="translate(1271.7 348.3) scale(1.000 1)" x="-9.26" y="5.47" font-size="21.05">●</text>
<text transform="translate(638.1 435.6) scale(1.000 1)" x="-9.26" y="5.47" font-size="21.05">●</text>
<text transform="translate(543.8 752.4) scale(1.097 1)" x="-14.50" y="11.60" font-size="32.22">♦</text>
<text transform="translate(605.3 751.0) scale(1.097 1)" x="-14.50" y="11.60" font-size="32.22">♦</text>
<text transform="translate(629.3 723.6) scale(1.199 1)" x="-15.24" y="12.50" font-size="34.25">♣</text>
<text transform="translate(732.0 754.3) scale(1.097 1)" x="-14.50" y="11.60" font-size="32.22">♦</text>
<text transform="translate(757.5 754.7) scale(1.082 1)" x="-13.75" y="11.15" font-size="30.55">♥</text>
<text transform="translate(976.5 715.4) scale(1.097 1)" x="-14.50" y="11.60" font-size="32.22">♦</text>
<text transform="translate(978.7 740.5) scale(1.000 1)" x="-9.26" y="5.47" font-size="21.05">●</text>
<text transform="translate(1270.2 718.3) scale(1.000 1)" x="-9.26" y="5.47" font-size="21.05">●</text>
<text transform="translate(1192.2 52.0) scale(1.000 1)" x="-8.68" y="5.13" font-size="19.74">●</text>
<text transform="translate(1198.8 116.4) scale(1.034 1)" x="-14.38" y="11.50" font-size="31.94">♦</text>
<text transform="translate(1198.8 192.0) scale(0.991 1)" x="-13.56" y="11.00" font-size="30.14">♥</text>
<text transform="translate(1198.8 267.0) scale(1.114 1)" x="-13.72" y="11.25" font-size="30.82">♣</text>
</g>
</svg>
</body>
</html>
